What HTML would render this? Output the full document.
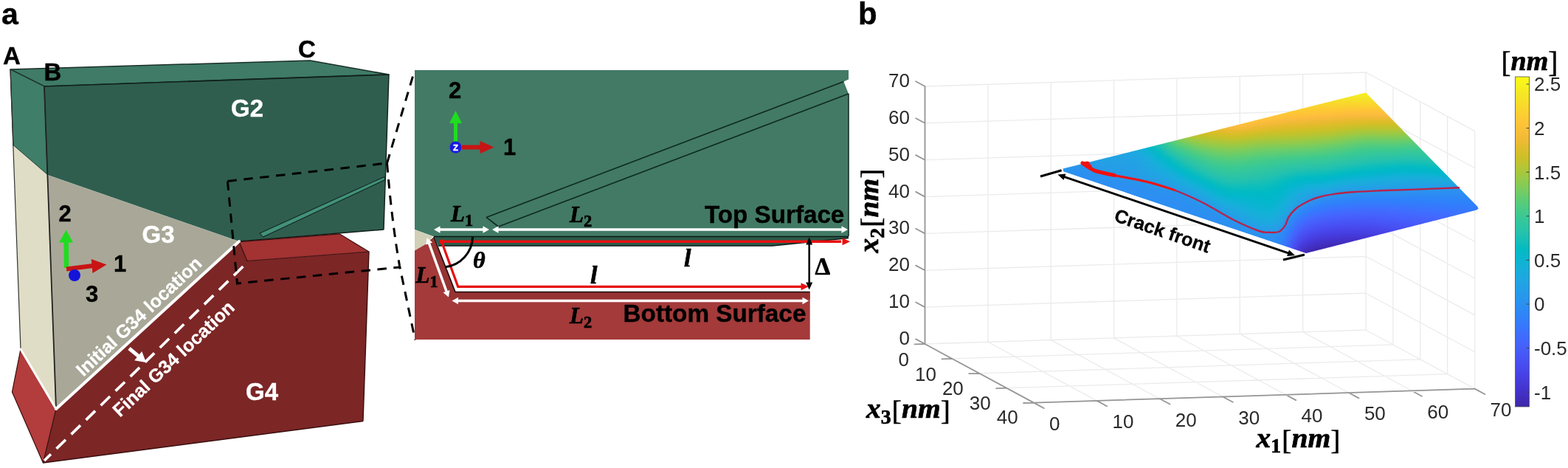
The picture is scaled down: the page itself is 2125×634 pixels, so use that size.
<!DOCTYPE html>
<html><head><meta charset="utf-8"><title>Figure</title>
<style>
html,body{margin:0;padding:0;background:#fff;}
body{width:2125px;height:634px;overflow:hidden;}
svg{display:block;}
.sb{font-family:"Liberation Sans",Arial,Helvetica,sans-serif;font-weight:bold;}
.sr{font-family:"Liberation Sans",Arial,Helvetica,sans-serif;font-weight:normal;}
.mi{font-family:"Liberation Serif","Times New Roman",serif;font-weight:bold;font-style:italic;stroke:#000;stroke-width:0.7px;}
.mr{font-family:"Liberation Serif","Times New Roman",serif;font-weight:normal;font-style:normal;stroke:#000;stroke-width:0.5px;}
.mb{font-family:"Liberation Serif","Times New Roman",serif;font-weight:bold;font-style:normal;stroke:#000;stroke-width:0.7px;}
</style></head><body>
<svg width="2125" height="634" viewBox="0 0 2125 634">
<rect x="0" y="0" width="2125" height="634" fill="#ffffff"/>
<g id="panelA">
<polygon points="14.0,94.0 420.4,82.0 527.0,101.0 60.0,117.0" fill="#3f7b67" stroke="#1a2f28" stroke-width="1.5" stroke-linejoin="round" />
<polygon points="14.0,94.0 60.0,117.0 64.4,237.0 18.0,197.0" fill="#3f7e69" stroke="#1a2f28" stroke-width="1.2" stroke-linejoin="round" />
<polygon points="18.0,197.0 64.4,237.0 76.0,554.0 28.0,473.0" fill="#dfddc6" />
<line x1="14.0" y1="94.0" x2="28.0" y2="473.0" stroke="#333" stroke-width="1.2" />
<polygon points="60.0,117.0 527.0,101.0 520.0,311.0 324.0,327.0 64.4,237.0" fill="#2f5e4f" />
<line x1="60.0" y1="117.0" x2="527.0" y2="101.0" stroke="#10201b" stroke-width="1.6" />
<line x1="527.0" y1="101.0" x2="520.0" y2="311.0" stroke="#10201b" stroke-width="1.4" />
<line x1="520.0" y1="311.0" x2="324.0" y2="327.0" stroke="#10201b" stroke-width="1.4" />
<polygon points="64.4,237.0 324.0,327.0 76.0,554.0" fill="#a9a898" />
<line x1="60.0" y1="117.0" x2="76.0" y2="554.0" stroke="#222" stroke-width="1.8" />
<polygon points="76.0,554.0 324.0,327.0 335.0,353.5 500.0,341.0 492.0,570.5 58.4,627.0" fill="#7c2626" />
<polygon points="324.0,327.6 460.0,316.8 500.0,341.0 335.0,353.5" fill="#a33232" stroke="#3a0f0f" stroke-width="1.2" stroke-linejoin="round" />
<line x1="500.0" y1="341.0" x2="492.0" y2="570.5" stroke="#3a0f0f" stroke-width="1.4" />
<line x1="492.0" y1="570.5" x2="58.4" y2="627.0" stroke="#3a0f0f" stroke-width="1.4" />
<polygon points="28.0,473.0 76.0,554.0 58.4,627.0 16.4,531.0" fill="#b33c3c" stroke="#3a0f0f" stroke-width="1.2" stroke-linejoin="round" />
<polygon points="352.0,316.0 521.0,239.5 521.8,243.6 356.5,321.0" fill="#43917a" stroke="#10281f" stroke-width="1.1" stroke-linejoin="round" />
<line x1="76.0" y1="554.0" x2="324.0" y2="327.0" stroke="#fff" stroke-width="4" stroke-linecap="round"/>
<line x1="28.0" y1="473.0" x2="76.0" y2="554.0" stroke="#fff" stroke-width="3" stroke-linecap="round"/>
<line x1="60.0" y1="624.0" x2="333.0" y2="357.5" stroke="#fff" stroke-width="3.7" stroke-dasharray="17.5 10.5" stroke-dashoffset="5"/>
<line x1="175.0" y1="472.0" x2="189.4" y2="483.9" stroke="#fff" stroke-width="5" />
<polygon points="198.0,491.0 182.1,488.3 192.3,475.9" fill="#fff" />
<path d="M308.4,245.5 L524.5,221 M308.4,245.5 L321.5,384 L541,362 M524.5,221 Q531,300 541.5,360 L562.6,460.5 M524.5,221 L562,95" fill="none" stroke="#000" stroke-width="3" stroke-dasharray="12.5 9.5"/>
<line x1="90.0" y1="363.0" x2="89.6" y2="326.0" stroke="#20dc20" stroke-width="6.5" />
<polygon points="89.6,311.5 99.1,328.5 80.1,328.5" fill="#20dc20" />
<line x1="90.0" y1="364.5" x2="126.0" y2="360.0" stroke="#c81414" stroke-width="6" />
<polygon points="144.5,358.5 125.5,369.9 123.7,351.0" fill="#c81414" />
<circle cx="101" cy="373" r="8" fill="#1414d8"/>
<text x="2.0" y="33.0" font-size="41" class="sb" fill="#000" text-anchor="start"  stroke="#000" stroke-width="0.4">a</text>
<text x="4.0" y="86.5" font-size="33" class="sb" fill="#000" text-anchor="start"  stroke="#000" stroke-width="0.4">A</text>
<text x="59.5" y="108.5" font-size="33" class="sb" fill="#000" text-anchor="start"  stroke="#000" stroke-width="0.4">B</text>
<text x="404.0" y="77.5" font-size="33" class="sb" fill="#000" text-anchor="start"  stroke="#000" stroke-width="0.4">C</text>
<text x="313.0" y="158.0" font-size="33" class="sb" fill="#fff" text-anchor="start"  stroke="#fff" stroke-width="0.4">G2</text>
<text x="192.5" y="328.5" font-size="33" class="sb" fill="#fff" text-anchor="start"  stroke="#fff" stroke-width="0.4">G3</text>
<text x="333.0" y="542.0" font-size="33" class="sb" fill="#fff" text-anchor="start"  stroke="#fff" stroke-width="0.4">G4</text>
<text x="79.5" y="300.0" font-size="31" class="sb" fill="#000" text-anchor="start"  stroke="#000" stroke-width="0.4">2</text>
<text x="154.0" y="368.0" font-size="31" class="sb" fill="#000" text-anchor="start"  stroke="#000" stroke-width="0.4">1</text>
<text x="116.0" y="409.0" font-size="31" class="sb" fill="#000" text-anchor="start"  stroke="#000" stroke-width="0.4">3</text>
<text transform="translate(113,511) rotate(-43.2)" font-size="25" class="sb" fill="#fff" stroke="#fff" stroke-width="0.3">Initial G34 location</text>
<text transform="translate(162.5,566) rotate(-43.2)" font-size="25" class="sb" fill="#fff" stroke="#fff" stroke-width="0.3">Final G34 location</text>
</g>
<g id="panelM">
<polygon points="562.0,95.0 1150.0,95.0 1150.0,107.5 1143.4,110.6 1150.0,127.0 1150.0,320.5 588.0,320.5 562.0,311.0" fill="#427a66" />
<path d="M659,294.4 L1143.4,110.6 M675.5,307 L1150,127 M659,294.4 L675.5,307" fill="none" stroke="#0f2a22" stroke-width="1.6"/>
<line x1="1150.0" y1="127.0" x2="1150.0" y2="320.0" stroke="#0f2a22" stroke-width="1.5" />
<polygon points="562.0,311.0 586.4,320.4 578.7,329.7 562.0,339.6" fill="#d2cfb8" />
<polygon points="562.0,339.6 578.7,329.7 588.0,321.0 617.0,396.0 1097.7,396.0 1097.7,460.0 562.0,460.0" fill="#a43a3a" />
<polygon points="588.0,321.0 617.0,396.0 1097.7,396.0 1097.7,405.5 610.5,405.5 582.0,326.0" fill="#953333" />
<path d="M588,321 L617,395.5 L1097.7,395.5" fill="none" stroke="#1a0a0a" stroke-width="1.6"/>
<polygon points="588.0,320.5 1150.0,320.5 1150.0,322.5 1047.0,333.0 594.0,333.0" fill="#2c5a4a" />
<path d="M588,320.5 L1150,320.5 M594,333 L1047,333 L1150,322.5" fill="none" stroke="#0a1a15" stroke-width="1.6"/>
<line x1="600.0" y1="327.3" x2="1140.0" y2="327.3" stroke="#e81010" stroke-width="3.6" />
<polygon points="1152.0,327.3 1141.5,332.3 1141.5,322.3" fill="#e81010" />
<circle cx="598.5" cy="327.3" r="3" fill="#e81010"/>
<path d="M598.5,327.3 L620.7,388.3 L1086,388.3" fill="none" stroke="#e81010" stroke-width="3.2" stroke-linejoin="miter"/>
<polygon points="1096.0,388.3 1085.5,393.3 1085.5,383.3" fill="#e81010" />
<path d="M640.6,321 A42,42 0 0 1 603,361.7" fill="none" stroke="#000" stroke-width="3"/>
<line x1="594.8" y1="311.0" x2="656.2" y2="311.0" stroke="#fff" stroke-width="3.4" />
<polygon points="588.0,311.0 596.5,306.2 596.5,315.8" fill="#fff" />
<polygon points="663.0,311.0 654.5,315.8 654.5,306.2" fill="#fff" />
<line x1="673.8" y1="311.0" x2="1142.2" y2="311.0" stroke="#fff" stroke-width="3.4" />
<polygon points="667.0,311.0 675.5,306.2 675.5,315.8" fill="#fff" />
<polygon points="1149.0,311.0 1140.5,315.8 1140.5,306.2" fill="#fff" />
<line x1="581.0" y1="328.4" x2="605.6" y2="396.2" stroke="#fff" stroke-width="3.4" />
<polygon points="578.7,322.0 586.1,328.4 577.1,331.6" fill="#fff" />
<polygon points="607.9,402.6 600.5,396.2 609.5,393.0" fill="#fff" />
<line x1="619.3" y1="407.5" x2="1089.2" y2="407.5" stroke="#fff" stroke-width="3.4" />
<polygon points="612.5,407.5 621.0,402.8 621.0,412.2" fill="#fff" />
<polygon points="1096.0,407.5 1087.5,412.2 1087.5,402.8" fill="#fff" />
<line x1="1096.7" y1="329.5" x2="1096.7" y2="384.5" stroke="#000" stroke-width="2.6" />
<polygon points="1096.7,321.5 1101.2,331.5 1092.2,331.5" fill="#000" />
<polygon points="1096.7,392.5 1092.2,382.5 1101.2,382.5" fill="#000" />
<line x1="617.5" y1="197.0" x2="617.5" y2="165.0" stroke="#20dc20" stroke-width="5" />
<polygon points="617.5,150.0 626.0,167.0 609.0,167.0" fill="#20dc20" />
<line x1="626.0" y1="199.5" x2="652.0" y2="199.5" stroke="#c81414" stroke-width="6" />
<polygon points="669.5,199.5 650.5,208.0 650.5,191.0" fill="#c81414" />
<circle cx="617.5" cy="199.5" r="8" fill="#1a1ae0"/>
<text x="617.6" y="203.6" font-size="11.5" class="sb" fill="#fff" text-anchor="middle"  stroke="#fff" stroke-width="0.4">Z</text>
<text x="608.0" y="133.0" font-size="31" class="sb" fill="#000" text-anchor="start"  stroke="#000" stroke-width="0.4">2</text>
<text x="682.0" y="209.5" font-size="31" class="sb" fill="#000" text-anchor="start"  stroke="#000" stroke-width="0.4">1</text>
<text x="955.0" y="302.0" font-size="33.2" class="sb" fill="#000" text-anchor="start"  stroke="#000" stroke-width="0.4">Top Surface</text>
<text x="844.5" y="436.0" font-size="33.3" class="sb" fill="#000" text-anchor="start"  stroke="#000" stroke-width="0.4">Bottom Surface</text>
<text x="611.0" y="300.0" font-size="31" class="mi" fill="#000">L<tspan dy="6.2" font-size="22.32" class="mb">1</tspan></text>
<text x="772.0" y="300.5" font-size="31" class="mi" fill="#000">L<tspan dy="6.2" font-size="22.32" class="mb">2</tspan></text>
<text x="563.5" y="382.5" font-size="31" class="mi" fill="#000">L<tspan dy="6.2" font-size="22.32" class="mb">1</tspan></text>
<text x="772.0" y="438.0" font-size="31" class="mi" fill="#000">L<tspan dy="6.2" font-size="22.32" class="mb">2</tspan></text>
<text x="641.0" y="363.0" font-size="32" class="mi" fill="#000" text-anchor="start" >θ</text>
<text x="927.0" y="361.0" font-size="34" class="mi" fill="#000" text-anchor="start" >l</text>
<text x="800.0" y="383.5" font-size="34" class="mi" fill="#000" text-anchor="start" >l</text>
<text x="1104.5" y="371.5" font-size="33" class="mb" fill="#000" text-anchor="start" >Δ</text>
</g>
<g id="panelB">
<path d="M1253.5,466.0 L1253.5,117.0 M1253.5,466.0 L1851.0,447.0 M1338.9,463.3 L1338.9,114.3 M1253.5,416.1 L1851.0,397.2 M1424.2,460.6 L1424.2,111.6 M1253.5,366.3 L1851.0,347.3 M1509.6,457.9 L1509.6,108.9 M1253.5,316.4 L1851.0,297.4 M1594.9,455.2 L1594.9,106.1 M1253.5,266.6 L1851.0,247.6 M1680.3,452.4 L1680.3,103.4 M1253.5,216.7 L1851.0,197.7 M1765.7,449.7 L1765.7,100.7 M1253.5,166.8 L1851.0,147.9 M1851.0,447.0 L1851.0,98.0 M1253.5,117.0 L1851.0,98.0 M1887.9,466.9 L1887.9,117.9 M1924.8,486.8 L1924.8,137.8 M1961.7,506.7 L1961.7,157.7 M1998.6,526.6 L1998.6,177.6 M1851.0,447.0 L1998.6,526.6 M1851.0,397.2 L1998.6,476.8 M1851.0,347.3 L1998.6,426.9 M1851.0,297.4 L1998.6,377.0 M1851.0,247.6 L1998.6,327.2 M1851.0,197.7 L1998.6,277.3 M1851.0,147.9 L1998.6,227.5 M1851.0,98.0 L1998.6,177.6 M1290.4,485.9 L1887.9,466.9 M1327.3,505.8 L1924.8,486.8 M1364.2,525.7 L1961.7,506.7 M1401.1,545.6 L1998.6,526.6 M1338.9,463.3 L1486.5,542.9 M1424.2,460.6 L1571.8,540.2 M1509.6,457.9 L1657.2,537.5 M1594.9,455.2 L1742.5,534.8 M1680.3,452.4 L1827.9,532.0 M1765.7,449.7 L1913.3,529.3 M1851.0,447.0 L1998.6,526.6" fill="none" stroke="#ebebeb" stroke-width="1.3"/>
<path d="M1253.5,466.0 L1253.5,117.0 M1253.5,466.0 L1401.1,545.6 M1401.1,545.6 L1998.6,526.6 M1253.5,466.0 L1241.2,459.4 M1401.1,545.6 L1414.7,553.0 M1253.5,416.1 L1241.2,409.5 M1486.5,542.9 L1500.1,550.2 M1253.5,366.3 L1241.2,359.6 M1571.8,540.2 L1585.5,547.5 M1253.5,316.4 L1241.2,309.8 M1657.2,537.5 L1670.8,544.8 M1253.5,266.6 L1241.2,259.9 M1742.5,534.8 L1756.2,542.1 M1253.5,216.7 L1241.2,210.1 M1827.9,532.0 L1841.5,539.4 M1253.5,166.8 L1241.2,160.2 M1913.3,529.3 L1926.9,536.7 M1253.5,117.0 L1241.2,110.3 M1998.6,526.6 L2012.3,534.0 M1253.5,466.0 L1239.5,466.4 M1290.4,485.9 L1276.4,486.3 M1327.3,505.8 L1313.3,506.2 M1364.2,525.7 L1350.2,526.1 M1401.1,545.6 L1387.1,546.0 M1401.1,545.6 L1411.7,551.3" fill="none" stroke="#969696" stroke-width="1.8" stroke-linecap="round"/>
<text x="1233.0" y="467.0" font-size="26" class="sr" fill="#2a2a2a" text-anchor="end" >0</text>
<text x="1422.1" y="582.9" font-size="26" class="sr" fill="#2a2a2a" text-anchor="start" >0</text>
<text x="1233.0" y="417.1" font-size="26" class="sr" fill="#2a2a2a" text-anchor="end" >10</text>
<text x="1507.5" y="580.2" font-size="26" class="sr" fill="#2a2a2a" text-anchor="start" >10</text>
<text x="1233.0" y="367.3" font-size="26" class="sr" fill="#2a2a2a" text-anchor="end" >20</text>
<text x="1592.8" y="577.5" font-size="26" class="sr" fill="#2a2a2a" text-anchor="start" >20</text>
<text x="1233.0" y="317.4" font-size="26" class="sr" fill="#2a2a2a" text-anchor="end" >30</text>
<text x="1678.2" y="574.8" font-size="26" class="sr" fill="#2a2a2a" text-anchor="start" >30</text>
<text x="1233.0" y="267.6" font-size="26" class="sr" fill="#2a2a2a" text-anchor="end" >40</text>
<text x="1763.5" y="572.1" font-size="26" class="sr" fill="#2a2a2a" text-anchor="start" >40</text>
<text x="1233.0" y="217.7" font-size="26" class="sr" fill="#2a2a2a" text-anchor="end" >50</text>
<text x="1848.9" y="569.3" font-size="26" class="sr" fill="#2a2a2a" text-anchor="start" >50</text>
<text x="1233.0" y="167.8" font-size="26" class="sr" fill="#2a2a2a" text-anchor="end" >60</text>
<text x="1934.3" y="566.6" font-size="26" class="sr" fill="#2a2a2a" text-anchor="start" >60</text>
<text x="1233.0" y="118.0" font-size="26" class="sr" fill="#2a2a2a" text-anchor="end" >70</text>
<text x="2019.6" y="563.9" font-size="26" class="sr" fill="#2a2a2a" text-anchor="start" >70</text>
<text x="1232.0" y="496.3" font-size="26" class="sr" fill="#2a2a2a" text-anchor="end" >0</text>
<text x="1268.9" y="515.7" font-size="26" class="sr" fill="#2a2a2a" text-anchor="end" >10</text>
<text x="1305.8" y="535.1" font-size="26" class="sr" fill="#2a2a2a" text-anchor="end" >20</text>
<text x="1342.7" y="554.5" font-size="26" class="sr" fill="#2a2a2a" text-anchor="end" >30</text>
<text x="1379.6" y="573.9" font-size="26" class="sr" fill="#2a2a2a" text-anchor="end" >40</text>
<defs><clipPath id="sc"><polygon points="1440.6,228.6 1851.0,125.5 2002.0,279.5 2003.5,282.5 2001.0,284.5 1770.0,343.0 1441.2,232.6"/></clipPath>
<linearGradient id="g0" gradientUnits="userSpaceOnUse" x1="1829.0" y1="0" x2="1873.0" y2="0"><stop offset="0.000" stop-color="#f7f31d"/><stop offset="0.250" stop-color="#f7f31d"/><stop offset="0.500" stop-color="#f7f31d"/><stop offset="0.750" stop-color="#f7f31d"/><stop offset="1.000" stop-color="#f7f31d"/></linearGradient>
<linearGradient id="g1" gradientUnits="userSpaceOnUse" x1="1817.3" y1="0" x2="1875.9" y2="0"><stop offset="0.000" stop-color="#f5ee21"/><stop offset="0.200" stop-color="#f5ee21"/><stop offset="0.400" stop-color="#f5ee21"/><stop offset="0.600" stop-color="#f5ee21"/><stop offset="0.800" stop-color="#f5ee21"/><stop offset="1.000" stop-color="#f5ee21"/></linearGradient>
<linearGradient id="g2" gradientUnits="userSpaceOnUse" x1="1805.5" y1="0" x2="1878.8" y2="0"><stop offset="0.000" stop-color="#f5e924"/><stop offset="0.143" stop-color="#f5e924"/><stop offset="0.286" stop-color="#f5e825"/><stop offset="0.429" stop-color="#f5e825"/><stop offset="0.571" stop-color="#f5e825"/><stop offset="0.714" stop-color="#f5e825"/><stop offset="0.857" stop-color="#f5e825"/><stop offset="1.000" stop-color="#f5e825"/></linearGradient>
<linearGradient id="g3" gradientUnits="userSpaceOnUse" x1="1793.8" y1="0" x2="1881.7" y2="0"><stop offset="0.000" stop-color="#f5e526"/><stop offset="0.125" stop-color="#f5e427"/><stop offset="0.250" stop-color="#f5e327"/><stop offset="0.375" stop-color="#f5e327"/><stop offset="0.500" stop-color="#f5e227"/><stop offset="0.625" stop-color="#f5e227"/><stop offset="0.750" stop-color="#f5e227"/><stop offset="0.875" stop-color="#f5e327"/><stop offset="1.000" stop-color="#f5e327"/></linearGradient>
<linearGradient id="g4" gradientUnits="userSpaceOnUse" x1="1782.1" y1="0" x2="1884.7" y2="0"><stop offset="0.000" stop-color="#f6e028"/><stop offset="0.111" stop-color="#f6df29"/><stop offset="0.222" stop-color="#f6de29"/><stop offset="0.333" stop-color="#f6dd29"/><stop offset="0.444" stop-color="#f7dd2a"/><stop offset="0.556" stop-color="#f7dd2a"/><stop offset="0.667" stop-color="#f7dd2a"/><stop offset="0.778" stop-color="#f7dd2a"/><stop offset="0.889" stop-color="#f7dd2a"/><stop offset="1.000" stop-color="#f7dd2a"/></linearGradient>
<linearGradient id="g5" gradientUnits="userSpaceOnUse" x1="1770.4" y1="0" x2="1887.6" y2="0"><stop offset="0.000" stop-color="#f7dc2a"/><stop offset="0.100" stop-color="#f8da2b"/><stop offset="0.200" stop-color="#f8d92b"/><stop offset="0.300" stop-color="#f8d82c"/><stop offset="0.400" stop-color="#f9d82c"/><stop offset="0.500" stop-color="#f9d72c"/><stop offset="0.600" stop-color="#f9d72d"/><stop offset="0.700" stop-color="#f9d72d"/><stop offset="0.800" stop-color="#f9d72d"/><stop offset="0.900" stop-color="#f9d72d"/><stop offset="1.000" stop-color="#f9d72d"/></linearGradient>
<linearGradient id="g6" gradientUnits="userSpaceOnUse" x1="1758.6" y1="0" x2="1890.5" y2="0"><stop offset="0.000" stop-color="#f9d82c"/><stop offset="0.091" stop-color="#f9d62d"/><stop offset="0.182" stop-color="#fad52e"/><stop offset="0.273" stop-color="#fad42e"/><stop offset="0.364" stop-color="#fbd32f"/><stop offset="0.455" stop-color="#fbd22f"/><stop offset="0.545" stop-color="#fbd12f"/><stop offset="0.636" stop-color="#fcd12f"/><stop offset="0.727" stop-color="#fcd12f"/><stop offset="0.818" stop-color="#fcd12f"/><stop offset="0.909" stop-color="#fcd12f"/><stop offset="1.000" stop-color="#fcd12f"/></linearGradient>
<linearGradient id="g7" gradientUnits="userSpaceOnUse" x1="1746.9" y1="0" x2="1893.4" y2="0"><stop offset="0.000" stop-color="#fad42e"/><stop offset="0.077" stop-color="#fbd22f"/><stop offset="0.154" stop-color="#fcd12f"/><stop offset="0.231" stop-color="#fcd030"/><stop offset="0.308" stop-color="#fdce31"/><stop offset="0.385" stop-color="#fdcd31"/><stop offset="0.462" stop-color="#fdcd32"/><stop offset="0.538" stop-color="#fdcc32"/><stop offset="0.615" stop-color="#fdcb33"/><stop offset="0.692" stop-color="#fdcb33"/><stop offset="0.769" stop-color="#fdcb33"/><stop offset="0.846" stop-color="#fdcb33"/><stop offset="0.923" stop-color="#fdcb33"/><stop offset="1.000" stop-color="#fdcb33"/></linearGradient>
<linearGradient id="g8" gradientUnits="userSpaceOnUse" x1="1735.2" y1="0" x2="1896.3" y2="0"><stop offset="0.000" stop-color="#fbd22f"/><stop offset="0.071" stop-color="#fccf31"/><stop offset="0.143" stop-color="#fdcd32"/><stop offset="0.214" stop-color="#fdcb33"/><stop offset="0.286" stop-color="#feca33"/><stop offset="0.357" stop-color="#fec934"/><stop offset="0.429" stop-color="#fec835"/><stop offset="0.500" stop-color="#fec735"/><stop offset="0.571" stop-color="#fec636"/><stop offset="0.643" stop-color="#fec636"/><stop offset="0.714" stop-color="#fec537"/><stop offset="0.786" stop-color="#fec537"/><stop offset="0.857" stop-color="#fec537"/><stop offset="0.929" stop-color="#fec537"/><stop offset="1.000" stop-color="#fec537"/></linearGradient>
<linearGradient id="g9" gradientUnits="userSpaceOnUse" x1="1723.5" y1="0" x2="1899.2" y2="0"><stop offset="0.000" stop-color="#fcd030"/><stop offset="0.067" stop-color="#fdcc32"/><stop offset="0.133" stop-color="#fec934"/><stop offset="0.200" stop-color="#fec735"/><stop offset="0.267" stop-color="#fec636"/><stop offset="0.333" stop-color="#fec537"/><stop offset="0.400" stop-color="#fec438"/><stop offset="0.467" stop-color="#fec339"/><stop offset="0.533" stop-color="#fec239"/><stop offset="0.600" stop-color="#fec13a"/><stop offset="0.667" stop-color="#fec03a"/><stop offset="0.733" stop-color="#fec03b"/><stop offset="0.800" stop-color="#fec03b"/><stop offset="0.867" stop-color="#fec03b"/><stop offset="0.933" stop-color="#fec03b"/><stop offset="1.000" stop-color="#febf3b"/></linearGradient>
<linearGradient id="g10" gradientUnits="userSpaceOnUse" x1="1711.7" y1="0" x2="1902.1" y2="0"><stop offset="0.000" stop-color="#fdce31"/><stop offset="0.062" stop-color="#feca33"/><stop offset="0.125" stop-color="#fec736"/><stop offset="0.188" stop-color="#fec438"/><stop offset="0.250" stop-color="#fec239"/><stop offset="0.312" stop-color="#fec13a"/><stop offset="0.375" stop-color="#fec03b"/><stop offset="0.438" stop-color="#febf3b"/><stop offset="0.500" stop-color="#febe3c"/><stop offset="0.562" stop-color="#fdbd3d"/><stop offset="0.625" stop-color="#fcbc3d"/><stop offset="0.688" stop-color="#fbbc3d"/><stop offset="0.750" stop-color="#fbbc3d"/><stop offset="0.812" stop-color="#fbbc3d"/><stop offset="0.875" stop-color="#fbbc3d"/><stop offset="0.938" stop-color="#fbbc3d"/><stop offset="1.000" stop-color="#fabb3d"/></linearGradient>
<linearGradient id="g11" gradientUnits="userSpaceOnUse" x1="1700.0" y1="0" x2="1905.1" y2="0"><stop offset="0.000" stop-color="#fdcd32"/><stop offset="0.056" stop-color="#fec934"/><stop offset="0.111" stop-color="#fec537"/><stop offset="0.167" stop-color="#fec239"/><stop offset="0.222" stop-color="#febf3b"/><stop offset="0.278" stop-color="#febe3c"/><stop offset="0.333" stop-color="#fdbd3d"/><stop offset="0.389" stop-color="#fcbc3d"/><stop offset="0.444" stop-color="#fbbc3d"/><stop offset="0.500" stop-color="#f9bb3d"/><stop offset="0.556" stop-color="#f8ba3d"/><stop offset="0.611" stop-color="#f6ba3b"/><stop offset="0.667" stop-color="#f5ba3a"/><stop offset="0.722" stop-color="#f4ba39"/><stop offset="0.778" stop-color="#f3ba39"/><stop offset="0.833" stop-color="#f3ba39"/><stop offset="0.889" stop-color="#f4ba39"/><stop offset="0.944" stop-color="#f3ba39"/><stop offset="1.000" stop-color="#f2ba38"/></linearGradient>
<linearGradient id="g12" gradientUnits="userSpaceOnUse" x1="1688.3" y1="0" x2="1908.0" y2="0"><stop offset="0.000" stop-color="#fdcb32"/><stop offset="0.053" stop-color="#fec735"/><stop offset="0.105" stop-color="#fec338"/><stop offset="0.158" stop-color="#fec03b"/><stop offset="0.211" stop-color="#fdbd3d"/><stop offset="0.263" stop-color="#fbbc3d"/><stop offset="0.316" stop-color="#f9bb3d"/><stop offset="0.368" stop-color="#f8ba3d"/><stop offset="0.421" stop-color="#f6ba3c"/><stop offset="0.474" stop-color="#f5ba3a"/><stop offset="0.526" stop-color="#f3ba38"/><stop offset="0.579" stop-color="#f0ba36"/><stop offset="0.632" stop-color="#eeba34"/><stop offset="0.684" stop-color="#ecba33"/><stop offset="0.737" stop-color="#ebba32"/><stop offset="0.789" stop-color="#ebba31"/><stop offset="0.842" stop-color="#ebba31"/><stop offset="0.895" stop-color="#ebba31"/><stop offset="0.947" stop-color="#ebba31"/><stop offset="1.000" stop-color="#e9bb30"/></linearGradient>
<linearGradient id="g13" gradientUnits="userSpaceOnUse" x1="1676.6" y1="0" x2="1910.9" y2="0"><stop offset="0.000" stop-color="#fec835"/><stop offset="0.050" stop-color="#fec636"/><stop offset="0.100" stop-color="#fec239"/><stop offset="0.150" stop-color="#febe3c"/><stop offset="0.200" stop-color="#fbbc3d"/><stop offset="0.250" stop-color="#f8ba3d"/><stop offset="0.300" stop-color="#f5ba3a"/><stop offset="0.350" stop-color="#f2ba38"/><stop offset="0.400" stop-color="#f1ba37"/><stop offset="0.450" stop-color="#efba35"/><stop offset="0.500" stop-color="#edba33"/><stop offset="0.550" stop-color="#ebba31"/><stop offset="0.600" stop-color="#e8bb2f"/><stop offset="0.650" stop-color="#e5bb2d"/><stop offset="0.700" stop-color="#e3bc2c"/><stop offset="0.750" stop-color="#e2bc2b"/><stop offset="0.800" stop-color="#e1bc2b"/><stop offset="0.850" stop-color="#e1bc2b"/><stop offset="0.900" stop-color="#e1bc2b"/><stop offset="0.950" stop-color="#e1bc2b"/><stop offset="1.000" stop-color="#dfbc2a"/></linearGradient>
<linearGradient id="g14" gradientUnits="userSpaceOnUse" x1="1664.8" y1="0" x2="1913.8" y2="0"><stop offset="0.000" stop-color="#fec13a"/><stop offset="0.048" stop-color="#fec239"/><stop offset="0.095" stop-color="#fec03b"/><stop offset="0.143" stop-color="#fcbd3d"/><stop offset="0.190" stop-color="#f8ba3d"/><stop offset="0.238" stop-color="#f4ba39"/><stop offset="0.286" stop-color="#f0ba36"/><stop offset="0.333" stop-color="#edba34"/><stop offset="0.381" stop-color="#ebba32"/><stop offset="0.429" stop-color="#e9bb30"/><stop offset="0.476" stop-color="#e7bb2e"/><stop offset="0.524" stop-color="#e5bb2d"/><stop offset="0.571" stop-color="#e2bc2b"/><stop offset="0.619" stop-color="#debc2a"/><stop offset="0.667" stop-color="#dbbd29"/><stop offset="0.714" stop-color="#d8be28"/><stop offset="0.762" stop-color="#d7be28"/><stop offset="0.810" stop-color="#d6be28"/><stop offset="0.857" stop-color="#d7be28"/><stop offset="0.905" stop-color="#d7be28"/><stop offset="0.952" stop-color="#d6be28"/><stop offset="1.000" stop-color="#d4bf28"/></linearGradient>
<linearGradient id="g15" gradientUnits="userSpaceOnUse" x1="1653.1" y1="0" x2="1916.7" y2="0"><stop offset="0.000" stop-color="#fabb3d"/><stop offset="0.045" stop-color="#fcbc3d"/><stop offset="0.091" stop-color="#fdbd3d"/><stop offset="0.136" stop-color="#fabc3d"/><stop offset="0.182" stop-color="#f5ba3b"/><stop offset="0.227" stop-color="#f0ba36"/><stop offset="0.273" stop-color="#ebba32"/><stop offset="0.318" stop-color="#e8bb2f"/><stop offset="0.364" stop-color="#e6bb2d"/><stop offset="0.409" stop-color="#e3bc2c"/><stop offset="0.455" stop-color="#e1bc2b"/><stop offset="0.500" stop-color="#dfbc2a"/><stop offset="0.545" stop-color="#dcbd29"/><stop offset="0.591" stop-color="#d8be28"/><stop offset="0.636" stop-color="#d4bf28"/><stop offset="0.682" stop-color="#d0c028"/><stop offset="0.727" stop-color="#cdc028"/><stop offset="0.773" stop-color="#cbc029"/><stop offset="0.818" stop-color="#cbc129"/><stop offset="0.864" stop-color="#cbc029"/><stop offset="0.909" stop-color="#ccc028"/><stop offset="0.955" stop-color="#cac129"/><stop offset="1.000" stop-color="#c8c129"/></linearGradient>
<linearGradient id="g16" gradientUnits="userSpaceOnUse" x1="1641.4" y1="0" x2="1919.6" y2="0"><stop offset="0.000" stop-color="#eeba34"/><stop offset="0.042" stop-color="#f2ba38"/><stop offset="0.083" stop-color="#f5ba3b"/><stop offset="0.125" stop-color="#f7ba3c"/><stop offset="0.167" stop-color="#f3ba39"/><stop offset="0.208" stop-color="#edba34"/><stop offset="0.250" stop-color="#e8bb2f"/><stop offset="0.292" stop-color="#e3bb2c"/><stop offset="0.333" stop-color="#e0bc2b"/><stop offset="0.375" stop-color="#debc2a"/><stop offset="0.417" stop-color="#dcbd29"/><stop offset="0.458" stop-color="#d9be28"/><stop offset="0.500" stop-color="#d7be28"/><stop offset="0.542" stop-color="#d4bf28"/><stop offset="0.583" stop-color="#d1bf27"/><stop offset="0.625" stop-color="#ccc028"/><stop offset="0.667" stop-color="#c7c12a"/><stop offset="0.708" stop-color="#c2c22c"/><stop offset="0.750" stop-color="#c0c32d"/><stop offset="0.792" stop-color="#bec32e"/><stop offset="0.833" stop-color="#bfc32e"/><stop offset="0.875" stop-color="#bfc32d"/><stop offset="0.917" stop-color="#bfc32d"/><stop offset="0.958" stop-color="#bdc32e"/><stop offset="1.000" stop-color="#bbc430"/></linearGradient>
<linearGradient id="g17" gradientUnits="userSpaceOnUse" x1="1629.7" y1="0" x2="1922.5" y2="0"><stop offset="0.000" stop-color="#e0bc2a"/><stop offset="0.040" stop-color="#e5bb2d"/><stop offset="0.080" stop-color="#e9bb30"/><stop offset="0.120" stop-color="#ecba33"/><stop offset="0.160" stop-color="#edba34"/><stop offset="0.200" stop-color="#eabb30"/><stop offset="0.240" stop-color="#e3bb2c"/><stop offset="0.280" stop-color="#debd29"/><stop offset="0.320" stop-color="#dabd28"/><stop offset="0.360" stop-color="#d7be28"/><stop offset="0.400" stop-color="#d5be28"/><stop offset="0.440" stop-color="#d2bf27"/><stop offset="0.480" stop-color="#cfc028"/><stop offset="0.520" stop-color="#cdc028"/><stop offset="0.560" stop-color="#cac129"/><stop offset="0.600" stop-color="#c6c22a"/><stop offset="0.640" stop-color="#c0c32d"/><stop offset="0.680" stop-color="#bac430"/><stop offset="0.720" stop-color="#b5c533"/><stop offset="0.760" stop-color="#b2c635"/><stop offset="0.800" stop-color="#b1c635"/><stop offset="0.840" stop-color="#b1c635"/><stop offset="0.880" stop-color="#b2c535"/><stop offset="0.920" stop-color="#b2c635"/><stop offset="0.960" stop-color="#afc637"/><stop offset="1.000" stop-color="#adc638"/></linearGradient>
<linearGradient id="g18" gradientUnits="userSpaceOnUse" x1="1617.9" y1="0" x2="1925.4" y2="0"><stop offset="0.000" stop-color="#cdc028"/><stop offset="0.038" stop-color="#d6be28"/><stop offset="0.077" stop-color="#dbbd29"/><stop offset="0.115" stop-color="#dfbc2a"/><stop offset="0.154" stop-color="#e3bc2c"/><stop offset="0.192" stop-color="#e3bb2c"/><stop offset="0.231" stop-color="#dfbc2a"/><stop offset="0.269" stop-color="#d8be28"/><stop offset="0.308" stop-color="#d3bf27"/><stop offset="0.346" stop-color="#cfc028"/><stop offset="0.385" stop-color="#cdc028"/><stop offset="0.423" stop-color="#cbc029"/><stop offset="0.462" stop-color="#c8c129"/><stop offset="0.500" stop-color="#c5c22a"/><stop offset="0.538" stop-color="#c2c22c"/><stop offset="0.577" stop-color="#bfc32d"/><stop offset="0.615" stop-color="#bac430"/><stop offset="0.654" stop-color="#b3c534"/><stop offset="0.692" stop-color="#acc738"/><stop offset="0.731" stop-color="#a6c73c"/><stop offset="0.769" stop-color="#a3c83e"/><stop offset="0.808" stop-color="#a3c83f"/><stop offset="0.846" stop-color="#a4c83e"/><stop offset="0.885" stop-color="#a4c83e"/><stop offset="0.923" stop-color="#a3c83f"/><stop offset="0.962" stop-color="#a0c841"/><stop offset="1.000" stop-color="#a0c941"/></linearGradient>
<linearGradient id="g19" gradientUnits="userSpaceOnUse" x1="1606.2" y1="0" x2="1928.4" y2="0"><stop offset="0.000" stop-color="#b0c636"/><stop offset="0.037" stop-color="#c1c32c"/><stop offset="0.074" stop-color="#cbc129"/><stop offset="0.111" stop-color="#d0bf27"/><stop offset="0.148" stop-color="#d4bf28"/><stop offset="0.185" stop-color="#d8be28"/><stop offset="0.222" stop-color="#d8be28"/><stop offset="0.259" stop-color="#d3bf27"/><stop offset="0.296" stop-color="#ccc028"/><stop offset="0.333" stop-color="#c7c12a"/><stop offset="0.370" stop-color="#c4c22b"/><stop offset="0.407" stop-color="#c2c22c"/><stop offset="0.444" stop-color="#c1c32c"/><stop offset="0.481" stop-color="#bdc32e"/><stop offset="0.519" stop-color="#bac430"/><stop offset="0.556" stop-color="#b6c532"/><stop offset="0.593" stop-color="#b3c534"/><stop offset="0.630" stop-color="#adc638"/><stop offset="0.667" stop-color="#a5c83d"/><stop offset="0.704" stop-color="#9dc943"/><stop offset="0.741" stop-color="#97ca47"/><stop offset="0.778" stop-color="#94ca4a"/><stop offset="0.815" stop-color="#95ca49"/><stop offset="0.852" stop-color="#96ca49"/><stop offset="0.889" stop-color="#96ca49"/><stop offset="0.926" stop-color="#93ca4a"/><stop offset="0.963" stop-color="#91ca4c"/><stop offset="1.000" stop-color="#92ca4b"/></linearGradient>
<linearGradient id="g20" gradientUnits="userSpaceOnUse" x1="1594.5" y1="0" x2="1931.3" y2="0"><stop offset="0.000" stop-color="#89cb53"/><stop offset="0.034" stop-color="#a2c840"/><stop offset="0.069" stop-color="#b4c534"/><stop offset="0.103" stop-color="#bec32e"/><stop offset="0.138" stop-color="#c4c22b"/><stop offset="0.172" stop-color="#c8c129"/><stop offset="0.207" stop-color="#ccc028"/><stop offset="0.241" stop-color="#cdc028"/><stop offset="0.276" stop-color="#c9c129"/><stop offset="0.310" stop-color="#c1c32c"/><stop offset="0.345" stop-color="#bcc42f"/><stop offset="0.379" stop-color="#b9c431"/><stop offset="0.414" stop-color="#b7c532"/><stop offset="0.448" stop-color="#b6c532"/><stop offset="0.483" stop-color="#b4c534"/><stop offset="0.517" stop-color="#b0c636"/><stop offset="0.552" stop-color="#acc738"/><stop offset="0.586" stop-color="#a9c73b"/><stop offset="0.621" stop-color="#a3c83e"/><stop offset="0.655" stop-color="#9cc944"/><stop offset="0.690" stop-color="#94ca4a"/><stop offset="0.724" stop-color="#8ccb50"/><stop offset="0.759" stop-color="#87cb54"/><stop offset="0.793" stop-color="#86cb55"/><stop offset="0.828" stop-color="#87cb54"/><stop offset="0.862" stop-color="#87cb54"/><stop offset="0.897" stop-color="#86cb54"/><stop offset="0.931" stop-color="#83cc57"/><stop offset="0.966" stop-color="#82cc58"/><stop offset="1.000" stop-color="#85cb56"/></linearGradient>
<linearGradient id="g21" gradientUnits="userSpaceOnUse" x1="1582.8" y1="0" x2="1934.2" y2="0"><stop offset="0.000" stop-color="#55cc7b"/><stop offset="0.033" stop-color="#7bcc5d"/><stop offset="0.067" stop-color="#93ca4b"/><stop offset="0.100" stop-color="#a6c83d"/><stop offset="0.133" stop-color="#b2c635"/><stop offset="0.167" stop-color="#b8c431"/><stop offset="0.200" stop-color="#bcc42f"/><stop offset="0.233" stop-color="#c0c32d"/><stop offset="0.267" stop-color="#c0c32d"/><stop offset="0.300" stop-color="#bbc42f"/><stop offset="0.333" stop-color="#b4c534"/><stop offset="0.367" stop-color="#afc637"/><stop offset="0.400" stop-color="#acc738"/><stop offset="0.433" stop-color="#abc739"/><stop offset="0.467" stop-color="#aac73a"/><stop offset="0.500" stop-color="#a7c73c"/><stop offset="0.533" stop-color="#a3c83e"/><stop offset="0.567" stop-color="#9fc941"/><stop offset="0.600" stop-color="#9bc944"/><stop offset="0.633" stop-color="#95ca49"/><stop offset="0.667" stop-color="#8ecb4f"/><stop offset="0.700" stop-color="#85cb55"/><stop offset="0.733" stop-color="#7dcc5b"/><stop offset="0.767" stop-color="#77cc5f"/><stop offset="0.800" stop-color="#77cc60"/><stop offset="0.833" stop-color="#78cc5f"/><stop offset="0.867" stop-color="#79cc5f"/><stop offset="0.900" stop-color="#77cc60"/><stop offset="0.933" stop-color="#73cd62"/><stop offset="0.967" stop-color="#74cd62"/><stop offset="1.000" stop-color="#78cc5f"/></linearGradient>
<linearGradient id="g22" gradientUnits="userSpaceOnUse" x1="1571.0" y1="0" x2="1937.1" y2="0"><stop offset="0.000" stop-color="#2fc5a2"/><stop offset="0.032" stop-color="#49cb85"/><stop offset="0.065" stop-color="#6ccd68"/><stop offset="0.097" stop-color="#84cc56"/><stop offset="0.129" stop-color="#97ca48"/><stop offset="0.161" stop-color="#a4c83e"/><stop offset="0.194" stop-color="#abc739"/><stop offset="0.226" stop-color="#b0c636"/><stop offset="0.258" stop-color="#b4c534"/><stop offset="0.290" stop-color="#b4c534"/><stop offset="0.323" stop-color="#aec637"/><stop offset="0.355" stop-color="#a7c73c"/><stop offset="0.387" stop-color="#a2c83f"/><stop offset="0.419" stop-color="#a0c841"/><stop offset="0.452" stop-color="#9ec942"/><stop offset="0.484" stop-color="#9dc943"/><stop offset="0.516" stop-color="#9ac945"/><stop offset="0.548" stop-color="#96ca48"/><stop offset="0.581" stop-color="#92ca4b"/><stop offset="0.613" stop-color="#8dcb4f"/><stop offset="0.645" stop-color="#87cb54"/><stop offset="0.677" stop-color="#7fcc5a"/><stop offset="0.710" stop-color="#76cc60"/><stop offset="0.742" stop-color="#6ecd67"/><stop offset="0.774" stop-color="#69cd6b"/><stop offset="0.806" stop-color="#69cd6a"/><stop offset="0.839" stop-color="#6acd6a"/><stop offset="0.871" stop-color="#6acd6a"/><stop offset="0.903" stop-color="#68cd6c"/><stop offset="0.935" stop-color="#65cd6e"/><stop offset="0.968" stop-color="#67cd6c"/><stop offset="1.000" stop-color="#6ccd68"/></linearGradient>
<linearGradient id="g23" gradientUnits="userSpaceOnUse" x1="1559.3" y1="0" x2="1940.0" y2="0"><stop offset="0.000" stop-color="#0abdbd"/><stop offset="0.031" stop-color="#29c3a9"/><stop offset="0.062" stop-color="#3fca8e"/><stop offset="0.094" stop-color="#5fcd73"/><stop offset="0.125" stop-color="#74cc62"/><stop offset="0.156" stop-color="#88cb53"/><stop offset="0.188" stop-color="#97ca48"/><stop offset="0.219" stop-color="#9ec942"/><stop offset="0.250" stop-color="#a3c83e"/><stop offset="0.281" stop-color="#a7c73c"/><stop offset="0.312" stop-color="#a6c73c"/><stop offset="0.344" stop-color="#a0c840"/><stop offset="0.375" stop-color="#99c946"/><stop offset="0.406" stop-color="#95ca49"/><stop offset="0.438" stop-color="#93ca4b"/><stop offset="0.469" stop-color="#92ca4c"/><stop offset="0.500" stop-color="#90ca4d"/><stop offset="0.531" stop-color="#8dcb4f"/><stop offset="0.562" stop-color="#89cb52"/><stop offset="0.594" stop-color="#85cb56"/><stop offset="0.625" stop-color="#7fcc5a"/><stop offset="0.656" stop-color="#78cc5f"/><stop offset="0.688" stop-color="#70cd65"/><stop offset="0.719" stop-color="#68cd6c"/><stop offset="0.750" stop-color="#60cd72"/><stop offset="0.781" stop-color="#5dcc75"/><stop offset="0.812" stop-color="#5dcc75"/><stop offset="0.844" stop-color="#5ecc74"/><stop offset="0.875" stop-color="#5dcc75"/><stop offset="0.906" stop-color="#5acc77"/><stop offset="0.938" stop-color="#59cc78"/><stop offset="0.969" stop-color="#5ccc76"/><stop offset="1.000" stop-color="#61cd71"/></linearGradient>
<linearGradient id="g24" gradientUnits="userSpaceOnUse" x1="1547.6" y1="0" x2="1942.9" y2="0"><stop offset="0.000" stop-color="#09b4d1"/><stop offset="0.030" stop-color="#03bbc3"/><stop offset="0.061" stop-color="#22c1b0"/><stop offset="0.091" stop-color="#37c897"/><stop offset="0.121" stop-color="#52cc7e"/><stop offset="0.152" stop-color="#65cd6e"/><stop offset="0.182" stop-color="#7acc5e"/><stop offset="0.212" stop-color="#89cb52"/><stop offset="0.242" stop-color="#92ca4c"/><stop offset="0.273" stop-color="#97ca47"/><stop offset="0.303" stop-color="#9bc945"/><stop offset="0.333" stop-color="#99c946"/><stop offset="0.364" stop-color="#93ca4b"/><stop offset="0.394" stop-color="#8ccb50"/><stop offset="0.424" stop-color="#88cb53"/><stop offset="0.455" stop-color="#86cb55"/><stop offset="0.485" stop-color="#84cb56"/><stop offset="0.515" stop-color="#82cc58"/><stop offset="0.545" stop-color="#7fcc5a"/><stop offset="0.576" stop-color="#7ccc5c"/><stop offset="0.606" stop-color="#77cc60"/><stop offset="0.636" stop-color="#71cd65"/><stop offset="0.667" stop-color="#6acd6a"/><stop offset="0.697" stop-color="#63cd70"/><stop offset="0.727" stop-color="#5bcc77"/><stop offset="0.758" stop-color="#54cc7c"/><stop offset="0.788" stop-color="#51cc7f"/><stop offset="0.818" stop-color="#52cc7e"/><stop offset="0.848" stop-color="#52cc7e"/><stop offset="0.879" stop-color="#50cc7f"/><stop offset="0.909" stop-color="#4ecc81"/><stop offset="0.939" stop-color="#4ecc82"/><stop offset="0.970" stop-color="#51cc7e"/><stop offset="1.000" stop-color="#57cc7a"/></linearGradient>
<linearGradient id="g25" gradientUnits="userSpaceOnUse" x1="1535.9" y1="0" x2="1945.8" y2="0"><stop offset="0.000" stop-color="#19addc"/><stop offset="0.029" stop-color="#10b2d5"/><stop offset="0.057" stop-color="#01b8c8"/><stop offset="0.086" stop-color="#16bfb7"/><stop offset="0.114" stop-color="#30c5a1"/><stop offset="0.143" stop-color="#42ca8b"/><stop offset="0.171" stop-color="#56cc7b"/><stop offset="0.200" stop-color="#69cd6b"/><stop offset="0.229" stop-color="#79cc5e"/><stop offset="0.257" stop-color="#84cc56"/><stop offset="0.286" stop-color="#8acb52"/><stop offset="0.314" stop-color="#8ecb4f"/><stop offset="0.343" stop-color="#8ecb4f"/><stop offset="0.371" stop-color="#89cb53"/><stop offset="0.400" stop-color="#82cc58"/><stop offset="0.429" stop-color="#7dcc5b"/><stop offset="0.457" stop-color="#7acc5d"/><stop offset="0.486" stop-color="#78cc5f"/><stop offset="0.514" stop-color="#75cc61"/><stop offset="0.543" stop-color="#73cd63"/><stop offset="0.571" stop-color="#70cd65"/><stop offset="0.600" stop-color="#6ccd68"/><stop offset="0.629" stop-color="#67cd6c"/><stop offset="0.657" stop-color="#61cd71"/><stop offset="0.686" stop-color="#5ccc76"/><stop offset="0.714" stop-color="#54cc7c"/><stop offset="0.743" stop-color="#4dcc82"/><stop offset="0.771" stop-color="#48cb86"/><stop offset="0.800" stop-color="#47cb87"/><stop offset="0.829" stop-color="#47cb87"/><stop offset="0.857" stop-color="#46cb88"/><stop offset="0.886" stop-color="#45cb89"/><stop offset="0.914" stop-color="#43ca8a"/><stop offset="0.943" stop-color="#44cb8a"/><stop offset="0.971" stop-color="#48cb86"/><stop offset="1.000" stop-color="#4ecc81"/></linearGradient>
<linearGradient id="g26" gradientUnits="userSpaceOnUse" x1="1524.1" y1="0" x2="1948.8" y2="0"><stop offset="0.000" stop-color="#1da9e0"/><stop offset="0.028" stop-color="#1baadf"/><stop offset="0.056" stop-color="#15afd9"/><stop offset="0.083" stop-color="#04b6cd"/><stop offset="0.111" stop-color="#0cbdbc"/><stop offset="0.139" stop-color="#2bc3a8"/><stop offset="0.167" stop-color="#3ac994"/><stop offset="0.194" stop-color="#4acb85"/><stop offset="0.222" stop-color="#5dcc75"/><stop offset="0.250" stop-color="#6dcd68"/><stop offset="0.278" stop-color="#77cc60"/><stop offset="0.306" stop-color="#7ecc5b"/><stop offset="0.333" stop-color="#82cc58"/><stop offset="0.361" stop-color="#81cc58"/><stop offset="0.389" stop-color="#7ccc5c"/><stop offset="0.417" stop-color="#75cc61"/><stop offset="0.444" stop-color="#71cd64"/><stop offset="0.472" stop-color="#6ecd67"/><stop offset="0.500" stop-color="#6bcd69"/><stop offset="0.528" stop-color="#68cd6b"/><stop offset="0.556" stop-color="#66cd6d"/><stop offset="0.583" stop-color="#64cd6f"/><stop offset="0.611" stop-color="#60cd72"/><stop offset="0.639" stop-color="#5bcc76"/><stop offset="0.667" stop-color="#56cc7b"/><stop offset="0.694" stop-color="#50cc80"/><stop offset="0.722" stop-color="#49cb85"/><stop offset="0.750" stop-color="#43ca8b"/><stop offset="0.778" stop-color="#3fca8e"/><stop offset="0.806" stop-color="#3eca8f"/><stop offset="0.833" stop-color="#3eca8f"/><stop offset="0.861" stop-color="#3dc990"/><stop offset="0.889" stop-color="#3cc992"/><stop offset="0.917" stop-color="#3bc993"/><stop offset="0.944" stop-color="#3cc991"/><stop offset="0.972" stop-color="#40ca8d"/><stop offset="1.000" stop-color="#45cb88"/></linearGradient>
<linearGradient id="g27" gradientUnits="userSpaceOnUse" x1="1512.4" y1="0" x2="1951.7" y2="0"><stop offset="0.000" stop-color="#1ea7e1"/><stop offset="0.027" stop-color="#1ea6e1"/><stop offset="0.054" stop-color="#1da8e0"/><stop offset="0.081" stop-color="#18addb"/><stop offset="0.108" stop-color="#08b4d0"/><stop offset="0.135" stop-color="#05bbc1"/><stop offset="0.162" stop-color="#24c1ae"/><stop offset="0.189" stop-color="#34c79c"/><stop offset="0.216" stop-color="#40ca8d"/><stop offset="0.243" stop-color="#52cc7e"/><stop offset="0.270" stop-color="#61cd71"/><stop offset="0.297" stop-color="#6ccd68"/><stop offset="0.324" stop-color="#72cd63"/><stop offset="0.351" stop-color="#76cc61"/><stop offset="0.378" stop-color="#75cc61"/><stop offset="0.405" stop-color="#6fcd65"/><stop offset="0.432" stop-color="#69cd6a"/><stop offset="0.459" stop-color="#65cd6e"/><stop offset="0.486" stop-color="#63cd70"/><stop offset="0.514" stop-color="#60cd73"/><stop offset="0.541" stop-color="#5dcc75"/><stop offset="0.568" stop-color="#5bcc77"/><stop offset="0.595" stop-color="#58cc79"/><stop offset="0.622" stop-color="#55cc7c"/><stop offset="0.649" stop-color="#50cc80"/><stop offset="0.676" stop-color="#4acb84"/><stop offset="0.703" stop-color="#45cb89"/><stop offset="0.730" stop-color="#3fca8e"/><stop offset="0.757" stop-color="#3bc993"/><stop offset="0.784" stop-color="#38c896"/><stop offset="0.811" stop-color="#37c897"/><stop offset="0.838" stop-color="#37c897"/><stop offset="0.865" stop-color="#36c898"/><stop offset="0.892" stop-color="#35c79a"/><stop offset="0.919" stop-color="#35c79a"/><stop offset="0.946" stop-color="#36c898"/><stop offset="0.973" stop-color="#3ac994"/><stop offset="1.000" stop-color="#3eca8f"/></linearGradient>
<linearGradient id="g28" gradientUnits="userSpaceOnUse" x1="1500.7" y1="0" x2="1954.6" y2="0"><stop offset="0.000" stop-color="#1fa5e2"/><stop offset="0.026" stop-color="#20a5e2"/><stop offset="0.053" stop-color="#20a5e2"/><stop offset="0.079" stop-color="#1fa6e2"/><stop offset="0.105" stop-color="#1aabdd"/><stop offset="0.132" stop-color="#0db3d4"/><stop offset="0.158" stop-color="#01bac5"/><stop offset="0.184" stop-color="#1bc0b4"/><stop offset="0.211" stop-color="#2fc5a3"/><stop offset="0.237" stop-color="#3ac994"/><stop offset="0.263" stop-color="#48cb86"/><stop offset="0.289" stop-color="#57cc7a"/><stop offset="0.316" stop-color="#62cd71"/><stop offset="0.342" stop-color="#68cd6b"/><stop offset="0.368" stop-color="#6bcd69"/><stop offset="0.395" stop-color="#69cd6a"/><stop offset="0.421" stop-color="#64cd6f"/><stop offset="0.447" stop-color="#5fcd73"/><stop offset="0.474" stop-color="#5bcc76"/><stop offset="0.500" stop-color="#58cc79"/><stop offset="0.526" stop-color="#55cc7c"/><stop offset="0.553" stop-color="#52cc7e"/><stop offset="0.579" stop-color="#50cc80"/><stop offset="0.605" stop-color="#4dcc82"/><stop offset="0.632" stop-color="#4acb85"/><stop offset="0.658" stop-color="#46cb88"/><stop offset="0.684" stop-color="#41ca8c"/><stop offset="0.711" stop-color="#3cc991"/><stop offset="0.737" stop-color="#38c896"/><stop offset="0.763" stop-color="#35c79a"/><stop offset="0.789" stop-color="#33c79c"/><stop offset="0.816" stop-color="#33c69e"/><stop offset="0.842" stop-color="#32c69f"/><stop offset="0.868" stop-color="#31c6a0"/><stop offset="0.895" stop-color="#30c5a1"/><stop offset="0.921" stop-color="#31c6a1"/><stop offset="0.947" stop-color="#32c69e"/><stop offset="0.974" stop-color="#35c79a"/><stop offset="1.000" stop-color="#38c896"/></linearGradient>
<linearGradient id="g29" gradientUnits="userSpaceOnUse" x1="1489.0" y1="0" x2="1957.5" y2="0"><stop offset="0.000" stop-color="#21a3e3"/><stop offset="0.025" stop-color="#20a4e3"/><stop offset="0.050" stop-color="#21a4e3"/><stop offset="0.075" stop-color="#21a3e3"/><stop offset="0.100" stop-color="#20a4e3"/><stop offset="0.125" stop-color="#1ca9e0"/><stop offset="0.150" stop-color="#14b0d8"/><stop offset="0.175" stop-color="#03b7cc"/><stop offset="0.200" stop-color="#0bbdbc"/><stop offset="0.225" stop-color="#26c2ad"/><stop offset="0.250" stop-color="#32c69e"/><stop offset="0.275" stop-color="#3dc991"/><stop offset="0.300" stop-color="#4acb84"/><stop offset="0.325" stop-color="#56cc7b"/><stop offset="0.350" stop-color="#5dcc75"/><stop offset="0.375" stop-color="#61cd72"/><stop offset="0.400" stop-color="#60cd72"/><stop offset="0.425" stop-color="#5dcc75"/><stop offset="0.450" stop-color="#57cc7a"/><stop offset="0.475" stop-color="#53cc7d"/><stop offset="0.500" stop-color="#50cc80"/><stop offset="0.525" stop-color="#4ccb83"/><stop offset="0.550" stop-color="#49cb85"/><stop offset="0.575" stop-color="#47cb87"/><stop offset="0.600" stop-color="#45cb89"/><stop offset="0.625" stop-color="#42ca8b"/><stop offset="0.650" stop-color="#3fca8e"/><stop offset="0.675" stop-color="#3cc992"/><stop offset="0.700" stop-color="#38c896"/><stop offset="0.725" stop-color="#35c79a"/><stop offset="0.750" stop-color="#32c69e"/><stop offset="0.775" stop-color="#30c5a1"/><stop offset="0.800" stop-color="#2fc5a3"/><stop offset="0.825" stop-color="#2ec4a4"/><stop offset="0.850" stop-color="#2dc4a6"/><stop offset="0.875" stop-color="#2cc4a7"/><stop offset="0.900" stop-color="#2cc4a7"/><stop offset="0.925" stop-color="#2cc4a6"/><stop offset="0.950" stop-color="#2ec5a4"/><stop offset="0.975" stop-color="#31c6a0"/><stop offset="1.000" stop-color="#34c79c"/></linearGradient>
<linearGradient id="g30" gradientUnits="userSpaceOnUse" x1="1477.2" y1="0" x2="1960.4" y2="0"><stop offset="0.000" stop-color="#23a0e5"/><stop offset="0.024" stop-color="#22a2e4"/><stop offset="0.049" stop-color="#22a2e4"/><stop offset="0.073" stop-color="#22a2e4"/><stop offset="0.098" stop-color="#22a2e4"/><stop offset="0.122" stop-color="#21a3e3"/><stop offset="0.146" stop-color="#1ea8e1"/><stop offset="0.171" stop-color="#17aeda"/><stop offset="0.195" stop-color="#07b5cf"/><stop offset="0.220" stop-color="#04bbc1"/><stop offset="0.244" stop-color="#1ec0b2"/><stop offset="0.268" stop-color="#2ec4a4"/><stop offset="0.293" stop-color="#37c897"/><stop offset="0.317" stop-color="#42ca8b"/><stop offset="0.341" stop-color="#4dcc82"/><stop offset="0.366" stop-color="#54cc7c"/><stop offset="0.390" stop-color="#58cc79"/><stop offset="0.415" stop-color="#57cc7a"/><stop offset="0.439" stop-color="#53cc7d"/><stop offset="0.463" stop-color="#4ecc81"/><stop offset="0.488" stop-color="#4acb84"/><stop offset="0.512" stop-color="#47cb87"/><stop offset="0.537" stop-color="#43ca8a"/><stop offset="0.561" stop-color="#40ca8d"/><stop offset="0.585" stop-color="#3eca8f"/><stop offset="0.610" stop-color="#3cc991"/><stop offset="0.634" stop-color="#3bc993"/><stop offset="0.659" stop-color="#39c895"/><stop offset="0.683" stop-color="#36c799"/><stop offset="0.707" stop-color="#33c69d"/><stop offset="0.732" stop-color="#30c5a1"/><stop offset="0.756" stop-color="#2ec4a5"/><stop offset="0.780" stop-color="#2cc4a7"/><stop offset="0.805" stop-color="#29c3a9"/><stop offset="0.829" stop-color="#28c3ab"/><stop offset="0.854" stop-color="#27c2ac"/><stop offset="0.878" stop-color="#25c2ad"/><stop offset="0.902" stop-color="#25c2ad"/><stop offset="0.927" stop-color="#27c2ac"/><stop offset="0.951" stop-color="#29c3a9"/><stop offset="0.976" stop-color="#2dc4a6"/><stop offset="1.000" stop-color="#2fc5a2"/></linearGradient>
<linearGradient id="g31" gradientUnits="userSpaceOnUse" x1="1465.5" y1="0" x2="1963.3" y2="0"><stop offset="0.000" stop-color="#259be7"/><stop offset="0.024" stop-color="#249ee6"/><stop offset="0.048" stop-color="#23a0e5"/><stop offset="0.071" stop-color="#23a1e4"/><stop offset="0.095" stop-color="#23a1e4"/><stop offset="0.119" stop-color="#23a1e4"/><stop offset="0.143" stop-color="#22a2e4"/><stop offset="0.167" stop-color="#1fa6e1"/><stop offset="0.190" stop-color="#19addc"/><stop offset="0.214" stop-color="#0bb3d2"/><stop offset="0.238" stop-color="#01b9c6"/><stop offset="0.262" stop-color="#15bfb7"/><stop offset="0.286" stop-color="#29c3a9"/><stop offset="0.310" stop-color="#33c69d"/><stop offset="0.333" stop-color="#3cc992"/><stop offset="0.357" stop-color="#45cb89"/><stop offset="0.381" stop-color="#4ccb83"/><stop offset="0.405" stop-color="#4fcc80"/><stop offset="0.429" stop-color="#4ecc81"/><stop offset="0.452" stop-color="#4acb84"/><stop offset="0.476" stop-color="#46cb88"/><stop offset="0.500" stop-color="#42ca8b"/><stop offset="0.524" stop-color="#3eca8f"/><stop offset="0.548" stop-color="#3cc992"/><stop offset="0.571" stop-color="#39c995"/><stop offset="0.595" stop-color="#37c897"/><stop offset="0.619" stop-color="#36c898"/><stop offset="0.643" stop-color="#35c79a"/><stop offset="0.667" stop-color="#33c79c"/><stop offset="0.690" stop-color="#31c6a0"/><stop offset="0.714" stop-color="#2ec5a4"/><stop offset="0.738" stop-color="#2bc3a8"/><stop offset="0.762" stop-color="#28c3ab"/><stop offset="0.786" stop-color="#25c2ad"/><stop offset="0.810" stop-color="#23c1af"/><stop offset="0.833" stop-color="#20c1b1"/><stop offset="0.857" stop-color="#1ec0b2"/><stop offset="0.881" stop-color="#1dc0b3"/><stop offset="0.905" stop-color="#1dc0b3"/><stop offset="0.929" stop-color="#1fc0b1"/><stop offset="0.952" stop-color="#24c1af"/><stop offset="0.976" stop-color="#28c2ab"/><stop offset="1.000" stop-color="#2bc3a8"/></linearGradient>
<linearGradient id="g32" gradientUnits="userSpaceOnUse" x1="1453.8" y1="0" x2="1966.2" y2="0"><stop offset="0.000" stop-color="#2698ea"/><stop offset="0.023" stop-color="#2699e9"/><stop offset="0.047" stop-color="#259ce7"/><stop offset="0.070" stop-color="#249ee6"/><stop offset="0.093" stop-color="#23a0e5"/><stop offset="0.116" stop-color="#23a0e5"/><stop offset="0.140" stop-color="#23a0e5"/><stop offset="0.163" stop-color="#22a1e4"/><stop offset="0.186" stop-color="#1fa5e2"/><stop offset="0.209" stop-color="#1aabdd"/><stop offset="0.233" stop-color="#10b2d5"/><stop offset="0.256" stop-color="#01b8ca"/><stop offset="0.279" stop-color="#0cbdbc"/><stop offset="0.302" stop-color="#24c1ae"/><stop offset="0.326" stop-color="#2fc5a2"/><stop offset="0.349" stop-color="#37c898"/><stop offset="0.372" stop-color="#3eca8f"/><stop offset="0.395" stop-color="#45cb89"/><stop offset="0.419" stop-color="#47cb87"/><stop offset="0.442" stop-color="#46cb88"/><stop offset="0.465" stop-color="#43ca8b"/><stop offset="0.488" stop-color="#3fca8e"/><stop offset="0.512" stop-color="#3cc992"/><stop offset="0.535" stop-color="#39c895"/><stop offset="0.558" stop-color="#36c899"/><stop offset="0.581" stop-color="#34c79b"/><stop offset="0.605" stop-color="#33c69e"/><stop offset="0.628" stop-color="#32c69f"/><stop offset="0.651" stop-color="#31c5a1"/><stop offset="0.674" stop-color="#2fc5a3"/><stop offset="0.698" stop-color="#2cc4a7"/><stop offset="0.721" stop-color="#28c3aa"/><stop offset="0.744" stop-color="#25c2ae"/><stop offset="0.767" stop-color="#21c1b1"/><stop offset="0.791" stop-color="#1dc0b3"/><stop offset="0.814" stop-color="#19bfb5"/><stop offset="0.837" stop-color="#16bfb7"/><stop offset="0.860" stop-color="#14beb8"/><stop offset="0.884" stop-color="#12beb9"/><stop offset="0.907" stop-color="#13beb8"/><stop offset="0.930" stop-color="#16bfb7"/><stop offset="0.953" stop-color="#1bc0b4"/><stop offset="0.977" stop-color="#21c1b0"/><stop offset="1.000" stop-color="#25c2ae"/></linearGradient>
<linearGradient id="g33" gradientUnits="userSpaceOnUse" x1="1442.1" y1="0" x2="1969.2" y2="0"><stop offset="0.000" stop-color="#2798ea"/><stop offset="0.023" stop-color="#2797eb"/><stop offset="0.045" stop-color="#2896ec"/><stop offset="0.068" stop-color="#2699e9"/><stop offset="0.091" stop-color="#259de7"/><stop offset="0.114" stop-color="#249ee6"/><stop offset="0.136" stop-color="#249fe6"/><stop offset="0.159" stop-color="#249fe5"/><stop offset="0.182" stop-color="#23a1e5"/><stop offset="0.205" stop-color="#20a4e3"/><stop offset="0.227" stop-color="#1caadf"/><stop offset="0.250" stop-color="#14b0d8"/><stop offset="0.273" stop-color="#04b6cd"/><stop offset="0.295" stop-color="#06bcc0"/><stop offset="0.318" stop-color="#1dc0b3"/><stop offset="0.341" stop-color="#2cc4a7"/><stop offset="0.364" stop-color="#33c79d"/><stop offset="0.386" stop-color="#3ac994"/><stop offset="0.409" stop-color="#3fca8f"/><stop offset="0.432" stop-color="#40ca8d"/><stop offset="0.455" stop-color="#3fca8e"/><stop offset="0.477" stop-color="#3dc991"/><stop offset="0.500" stop-color="#39c994"/><stop offset="0.523" stop-color="#37c898"/><stop offset="0.545" stop-color="#34c79b"/><stop offset="0.568" stop-color="#32c69f"/><stop offset="0.591" stop-color="#30c5a2"/><stop offset="0.614" stop-color="#2ec5a4"/><stop offset="0.636" stop-color="#2dc4a5"/><stop offset="0.659" stop-color="#2cc4a7"/><stop offset="0.682" stop-color="#29c3a9"/><stop offset="0.705" stop-color="#26c2ad"/><stop offset="0.727" stop-color="#20c1b1"/><stop offset="0.750" stop-color="#1bc0b4"/><stop offset="0.773" stop-color="#17bfb6"/><stop offset="0.795" stop-color="#12beb9"/><stop offset="0.818" stop-color="#0ebdbb"/><stop offset="0.841" stop-color="#0bbdbd"/><stop offset="0.864" stop-color="#09bcbe"/><stop offset="0.886" stop-color="#09bcbe"/><stop offset="0.909" stop-color="#09bdbe"/><stop offset="0.932" stop-color="#0cbdbc"/><stop offset="0.955" stop-color="#12beb9"/><stop offset="0.977" stop-color="#18bfb6"/><stop offset="1.000" stop-color="#1cc0b4"/></linearGradient>
<linearGradient id="g34" gradientUnits="userSpaceOnUse" x1="1430.3" y1="0" x2="1972.1" y2="0"><stop offset="0.000" stop-color="#2798ea"/><stop offset="0.022" stop-color="#2797eb"/><stop offset="0.043" stop-color="#2995ec"/><stop offset="0.065" stop-color="#2a93ee"/><stop offset="0.087" stop-color="#2796eb"/><stop offset="0.109" stop-color="#259be8"/><stop offset="0.130" stop-color="#249de7"/><stop offset="0.152" stop-color="#249ee6"/><stop offset="0.174" stop-color="#249ee6"/><stop offset="0.196" stop-color="#239fe5"/><stop offset="0.217" stop-color="#21a2e4"/><stop offset="0.239" stop-color="#1ea7e1"/><stop offset="0.261" stop-color="#19addc"/><stop offset="0.283" stop-color="#0db3d4"/><stop offset="0.304" stop-color="#01b8c8"/><stop offset="0.326" stop-color="#0dbdbb"/><stop offset="0.348" stop-color="#22c1b0"/><stop offset="0.370" stop-color="#2dc4a5"/><stop offset="0.391" stop-color="#34c79c"/><stop offset="0.413" stop-color="#38c896"/><stop offset="0.435" stop-color="#3bc993"/><stop offset="0.457" stop-color="#3bc993"/><stop offset="0.478" stop-color="#39c895"/><stop offset="0.500" stop-color="#36c898"/><stop offset="0.522" stop-color="#34c79c"/><stop offset="0.543" stop-color="#31c69f"/><stop offset="0.565" stop-color="#2fc5a3"/><stop offset="0.587" stop-color="#2cc4a6"/><stop offset="0.609" stop-color="#2ac3a9"/><stop offset="0.630" stop-color="#28c3ab"/><stop offset="0.652" stop-color="#27c2ac"/><stop offset="0.674" stop-color="#25c2ae"/><stop offset="0.696" stop-color="#21c1b1"/><stop offset="0.717" stop-color="#1ac0b4"/><stop offset="0.739" stop-color="#14bfb8"/><stop offset="0.761" stop-color="#0fbeba"/><stop offset="0.783" stop-color="#0bbdbd"/><stop offset="0.804" stop-color="#08bcbf"/><stop offset="0.826" stop-color="#05bbc1"/><stop offset="0.848" stop-color="#03bbc3"/><stop offset="0.870" stop-color="#02bac4"/><stop offset="0.891" stop-color="#02bac4"/><stop offset="0.913" stop-color="#02bbc3"/><stop offset="0.935" stop-color="#05bbc1"/><stop offset="0.957" stop-color="#09bcbe"/><stop offset="0.978" stop-color="#0ebdbb"/><stop offset="1.000" stop-color="#11beba"/></linearGradient>
<linearGradient id="g35" gradientUnits="userSpaceOnUse" x1="1418.6" y1="0" x2="1975.0" y2="0"><stop offset="0.000" stop-color="#2896eb"/><stop offset="0.021" stop-color="#2896eb"/><stop offset="0.043" stop-color="#2895ec"/><stop offset="0.064" stop-color="#2a92ee"/><stop offset="0.085" stop-color="#2b91ef"/><stop offset="0.106" stop-color="#2994ed"/><stop offset="0.128" stop-color="#2698ea"/><stop offset="0.149" stop-color="#259ce7"/><stop offset="0.170" stop-color="#259de7"/><stop offset="0.191" stop-color="#249de6"/><stop offset="0.213" stop-color="#249fe6"/><stop offset="0.234" stop-color="#22a1e4"/><stop offset="0.255" stop-color="#1fa6e2"/><stop offset="0.277" stop-color="#1aabde"/><stop offset="0.298" stop-color="#12b1d6"/><stop offset="0.319" stop-color="#03b7cc"/><stop offset="0.340" stop-color="#07bcc0"/><stop offset="0.362" stop-color="#1bc0b4"/><stop offset="0.383" stop-color="#29c3aa"/><stop offset="0.404" stop-color="#30c5a1"/><stop offset="0.426" stop-color="#35c79a"/><stop offset="0.447" stop-color="#36c898"/><stop offset="0.468" stop-color="#36c898"/><stop offset="0.489" stop-color="#35c79b"/><stop offset="0.511" stop-color="#33c69d"/><stop offset="0.532" stop-color="#30c5a1"/><stop offset="0.553" stop-color="#2ec4a5"/><stop offset="0.574" stop-color="#2ac3a9"/><stop offset="0.596" stop-color="#26c2ac"/><stop offset="0.617" stop-color="#23c1af"/><stop offset="0.638" stop-color="#21c1b0"/><stop offset="0.660" stop-color="#1fc0b2"/><stop offset="0.681" stop-color="#1cc0b4"/><stop offset="0.702" stop-color="#16bfb7"/><stop offset="0.723" stop-color="#0fbebb"/><stop offset="0.745" stop-color="#09bdbe"/><stop offset="0.766" stop-color="#06bcc0"/><stop offset="0.787" stop-color="#03bbc2"/><stop offset="0.809" stop-color="#02bac5"/><stop offset="0.830" stop-color="#01b9c7"/><stop offset="0.851" stop-color="#01b8c8"/><stop offset="0.872" stop-color="#01b8c9"/><stop offset="0.894" stop-color="#01b8c9"/><stop offset="0.915" stop-color="#01b8c8"/><stop offset="0.936" stop-color="#01b9c6"/><stop offset="0.957" stop-color="#02bac3"/><stop offset="0.979" stop-color="#05bbc1"/><stop offset="1.000" stop-color="#07bcc0"/></linearGradient>
<linearGradient id="g36" gradientUnits="userSpaceOnUse" x1="1427.4" y1="0" x2="1977.9" y2="0"><stop offset="0.000" stop-color="#2a93ed"/><stop offset="0.022" stop-color="#2a93ee"/><stop offset="0.043" stop-color="#2b91ef"/><stop offset="0.065" stop-color="#2c90f0"/><stop offset="0.087" stop-color="#2b91ef"/><stop offset="0.109" stop-color="#2994ed"/><stop offset="0.130" stop-color="#2699e9"/><stop offset="0.152" stop-color="#259be8"/><stop offset="0.174" stop-color="#259ce7"/><stop offset="0.196" stop-color="#249de6"/><stop offset="0.217" stop-color="#23a0e5"/><stop offset="0.239" stop-color="#21a4e3"/><stop offset="0.261" stop-color="#1da8e0"/><stop offset="0.283" stop-color="#17aedb"/><stop offset="0.304" stop-color="#0ab4d1"/><stop offset="0.326" stop-color="#01b9c6"/><stop offset="0.348" stop-color="#0fbebb"/><stop offset="0.370" stop-color="#22c1b0"/><stop offset="0.391" stop-color="#2cc4a7"/><stop offset="0.413" stop-color="#31c6a0"/><stop offset="0.435" stop-color="#33c69d"/><stop offset="0.457" stop-color="#33c69d"/><stop offset="0.478" stop-color="#31c69f"/><stop offset="0.500" stop-color="#30c5a2"/><stop offset="0.522" stop-color="#2dc4a5"/><stop offset="0.543" stop-color="#2ac3a9"/><stop offset="0.565" stop-color="#25c2ad"/><stop offset="0.587" stop-color="#1fc1b1"/><stop offset="0.609" stop-color="#1bc0b4"/><stop offset="0.630" stop-color="#18bfb6"/><stop offset="0.652" stop-color="#15bfb7"/><stop offset="0.674" stop-color="#11beb9"/><stop offset="0.696" stop-color="#0bbdbd"/><stop offset="0.717" stop-color="#05bbc1"/><stop offset="0.739" stop-color="#02bac4"/><stop offset="0.761" stop-color="#01b9c6"/><stop offset="0.783" stop-color="#01b8c8"/><stop offset="0.804" stop-color="#02b7ca"/><stop offset="0.826" stop-color="#04b6cc"/><stop offset="0.848" stop-color="#05b6ce"/><stop offset="0.870" stop-color="#06b6ce"/><stop offset="0.891" stop-color="#05b6ce"/><stop offset="0.913" stop-color="#04b6cd"/><stop offset="0.935" stop-color="#02b7cb"/><stop offset="0.957" stop-color="#01b8c9"/><stop offset="0.978" stop-color="#01b9c7"/><stop offset="1.000" stop-color="#01b9c6"/></linearGradient>
<linearGradient id="g37" gradientUnits="userSpaceOnUse" x1="1436.2" y1="0" x2="1980.8" y2="0"><stop offset="0.000" stop-color="#2b91ef"/><stop offset="0.022" stop-color="#2b90f0"/><stop offset="0.043" stop-color="#2c8ff0"/><stop offset="0.065" stop-color="#2c8ff0"/><stop offset="0.087" stop-color="#2b91ef"/><stop offset="0.109" stop-color="#2994ed"/><stop offset="0.130" stop-color="#2798ea"/><stop offset="0.152" stop-color="#269ae8"/><stop offset="0.174" stop-color="#259ce7"/><stop offset="0.196" stop-color="#249ee6"/><stop offset="0.217" stop-color="#23a1e5"/><stop offset="0.239" stop-color="#20a4e3"/><stop offset="0.261" stop-color="#1ca9df"/><stop offset="0.283" stop-color="#16afd9"/><stop offset="0.304" stop-color="#07b5d0"/><stop offset="0.326" stop-color="#02bac5"/><stop offset="0.348" stop-color="#10beba"/><stop offset="0.370" stop-color="#22c1b0"/><stop offset="0.391" stop-color="#2bc3a7"/><stop offset="0.413" stop-color="#2fc5a3"/><stop offset="0.435" stop-color="#30c5a2"/><stop offset="0.457" stop-color="#2fc5a3"/><stop offset="0.478" stop-color="#2dc4a5"/><stop offset="0.500" stop-color="#2bc3a8"/><stop offset="0.522" stop-color="#27c2ab"/><stop offset="0.543" stop-color="#22c1b0"/><stop offset="0.565" stop-color="#1bc0b4"/><stop offset="0.587" stop-color="#14beb8"/><stop offset="0.609" stop-color="#0fbebb"/><stop offset="0.630" stop-color="#0cbdbc"/><stop offset="0.652" stop-color="#0abdbd"/><stop offset="0.674" stop-color="#06bcc0"/><stop offset="0.696" stop-color="#02bac4"/><stop offset="0.717" stop-color="#01b9c8"/><stop offset="0.739" stop-color="#01b8ca"/><stop offset="0.761" stop-color="#03b7cc"/><stop offset="0.783" stop-color="#05b6ce"/><stop offset="0.804" stop-color="#08b4d0"/><stop offset="0.826" stop-color="#0ab4d2"/><stop offset="0.848" stop-color="#0cb3d3"/><stop offset="0.870" stop-color="#0db3d3"/><stop offset="0.891" stop-color="#0db3d3"/><stop offset="0.913" stop-color="#0bb3d2"/><stop offset="0.935" stop-color="#08b4d0"/><stop offset="0.957" stop-color="#05b6ce"/><stop offset="0.978" stop-color="#04b6cc"/><stop offset="1.000" stop-color="#04b6cd"/></linearGradient>
<linearGradient id="g38" gradientUnits="userSpaceOnUse" x1="1445.0" y1="0" x2="1983.7" y2="0"><stop offset="0.000" stop-color="#2c8ff0"/><stop offset="0.022" stop-color="#2c8ff1"/><stop offset="0.044" stop-color="#2c8ff1"/><stop offset="0.067" stop-color="#2c8ff0"/><stop offset="0.089" stop-color="#2b91ef"/><stop offset="0.111" stop-color="#2994ed"/><stop offset="0.133" stop-color="#2797eb"/><stop offset="0.156" stop-color="#269ae9"/><stop offset="0.178" stop-color="#259ce7"/><stop offset="0.200" stop-color="#249ee6"/><stop offset="0.222" stop-color="#22a2e4"/><stop offset="0.244" stop-color="#1fa6e2"/><stop offset="0.267" stop-color="#1aacdd"/><stop offset="0.289" stop-color="#10b2d5"/><stop offset="0.311" stop-color="#02b7cb"/><stop offset="0.333" stop-color="#06bcc0"/><stop offset="0.356" stop-color="#18bfb6"/><stop offset="0.378" stop-color="#26c2ad"/><stop offset="0.400" stop-color="#2bc3a8"/><stop offset="0.422" stop-color="#2cc4a6"/><stop offset="0.444" stop-color="#2cc4a7"/><stop offset="0.467" stop-color="#2ac3a9"/><stop offset="0.489" stop-color="#27c2ac"/><stop offset="0.511" stop-color="#23c1af"/><stop offset="0.533" stop-color="#1cc0b4"/><stop offset="0.556" stop-color="#12beb9"/><stop offset="0.578" stop-color="#0abdbd"/><stop offset="0.600" stop-color="#06bcc0"/><stop offset="0.622" stop-color="#04bbc2"/><stop offset="0.644" stop-color="#02bbc3"/><stop offset="0.667" stop-color="#01b9c6"/><stop offset="0.689" stop-color="#01b8ca"/><stop offset="0.711" stop-color="#05b6cd"/><stop offset="0.733" stop-color="#07b5d0"/><stop offset="0.756" stop-color="#09b4d1"/><stop offset="0.778" stop-color="#0db3d3"/><stop offset="0.800" stop-color="#11b1d6"/><stop offset="0.822" stop-color="#13b1d7"/><stop offset="0.844" stop-color="#14b0d8"/><stop offset="0.867" stop-color="#14b0d8"/><stop offset="0.889" stop-color="#14b0d8"/><stop offset="0.911" stop-color="#13b0d7"/><stop offset="0.933" stop-color="#11b1d6"/><stop offset="0.956" stop-color="#0db3d4"/><stop offset="0.978" stop-color="#0cb3d3"/><stop offset="1.000" stop-color="#0cb3d3"/></linearGradient>
<linearGradient id="g39" gradientUnits="userSpaceOnUse" x1="1453.7" y1="0" x2="1986.6" y2="0"><stop offset="0.000" stop-color="#2c8ff1"/><stop offset="0.022" stop-color="#2c8ef1"/><stop offset="0.044" stop-color="#2c8ff1"/><stop offset="0.067" stop-color="#2c90f0"/><stop offset="0.089" stop-color="#2b91ef"/><stop offset="0.111" stop-color="#2a93ed"/><stop offset="0.133" stop-color="#2896eb"/><stop offset="0.156" stop-color="#2699e9"/><stop offset="0.178" stop-color="#259ce7"/><stop offset="0.200" stop-color="#249fe6"/><stop offset="0.222" stop-color="#22a2e4"/><stop offset="0.244" stop-color="#1ea7e1"/><stop offset="0.267" stop-color="#19acdc"/><stop offset="0.289" stop-color="#0eb3d4"/><stop offset="0.311" stop-color="#01b8ca"/><stop offset="0.333" stop-color="#07bcbf"/><stop offset="0.356" stop-color="#19bfb5"/><stop offset="0.378" stop-color="#24c1ae"/><stop offset="0.400" stop-color="#27c2ab"/><stop offset="0.422" stop-color="#28c2ab"/><stop offset="0.444" stop-color="#26c2ac"/><stop offset="0.467" stop-color="#24c1ae"/><stop offset="0.489" stop-color="#20c1b1"/><stop offset="0.511" stop-color="#1abfb5"/><stop offset="0.533" stop-color="#10beba"/><stop offset="0.556" stop-color="#07bcc0"/><stop offset="0.578" stop-color="#02bac4"/><stop offset="0.600" stop-color="#01b9c6"/><stop offset="0.622" stop-color="#01b9c7"/><stop offset="0.644" stop-color="#01b8c9"/><stop offset="0.667" stop-color="#04b6cd"/><stop offset="0.689" stop-color="#09b4d1"/><stop offset="0.711" stop-color="#0eb2d4"/><stop offset="0.733" stop-color="#10b2d5"/><stop offset="0.756" stop-color="#13b0d7"/><stop offset="0.778" stop-color="#15afd9"/><stop offset="0.800" stop-color="#17aeda"/><stop offset="0.822" stop-color="#18addb"/><stop offset="0.844" stop-color="#19addc"/><stop offset="0.867" stop-color="#19acdc"/><stop offset="0.889" stop-color="#19addc"/><stop offset="0.911" stop-color="#18addb"/><stop offset="0.933" stop-color="#17aeda"/><stop offset="0.956" stop-color="#15afd9"/><stop offset="0.978" stop-color="#15afd8"/><stop offset="1.000" stop-color="#15afd9"/></linearGradient>
<linearGradient id="g40" gradientUnits="userSpaceOnUse" x1="1462.5" y1="0" x2="1989.5" y2="0"><stop offset="0.000" stop-color="#2c8ef1"/><stop offset="0.023" stop-color="#2c8ef1"/><stop offset="0.045" stop-color="#2c8ff1"/><stop offset="0.068" stop-color="#2c90f0"/><stop offset="0.091" stop-color="#2b91ef"/><stop offset="0.114" stop-color="#2a93ee"/><stop offset="0.136" stop-color="#2895ec"/><stop offset="0.159" stop-color="#2698ea"/><stop offset="0.182" stop-color="#259ce7"/><stop offset="0.205" stop-color="#249fe5"/><stop offset="0.227" stop-color="#21a3e3"/><stop offset="0.250" stop-color="#1da9e0"/><stop offset="0.273" stop-color="#15afd9"/><stop offset="0.295" stop-color="#07b5d0"/><stop offset="0.318" stop-color="#01bac5"/><stop offset="0.341" stop-color="#0dbdbb"/><stop offset="0.364" stop-color="#1cc0b3"/><stop offset="0.386" stop-color="#22c1b0"/><stop offset="0.409" stop-color="#23c1af"/><stop offset="0.432" stop-color="#21c1b0"/><stop offset="0.455" stop-color="#1ec0b2"/><stop offset="0.477" stop-color="#1ac0b5"/><stop offset="0.500" stop-color="#13beb8"/><stop offset="0.523" stop-color="#09bcbe"/><stop offset="0.545" stop-color="#02bac4"/><stop offset="0.568" stop-color="#01b8c8"/><stop offset="0.591" stop-color="#02b7cb"/><stop offset="0.614" stop-color="#04b6cd"/><stop offset="0.636" stop-color="#06b5cf"/><stop offset="0.659" stop-color="#0cb3d3"/><stop offset="0.682" stop-color="#13b1d7"/><stop offset="0.705" stop-color="#15afd9"/><stop offset="0.727" stop-color="#17aeda"/><stop offset="0.750" stop-color="#19addc"/><stop offset="0.773" stop-color="#1aabdd"/><stop offset="0.795" stop-color="#1baade"/><stop offset="0.818" stop-color="#1caadf"/><stop offset="0.841" stop-color="#1ca9df"/><stop offset="0.864" stop-color="#1da9e0"/><stop offset="0.886" stop-color="#1da9e0"/><stop offset="0.909" stop-color="#1ca9df"/><stop offset="0.932" stop-color="#1caadf"/><stop offset="0.955" stop-color="#1babde"/><stop offset="0.977" stop-color="#1babde"/><stop offset="1.000" stop-color="#1babde"/></linearGradient>
<linearGradient id="g41" gradientUnits="userSpaceOnUse" x1="1471.3" y1="0" x2="1992.5" y2="0"><stop offset="0.000" stop-color="#2c8ef1"/><stop offset="0.023" stop-color="#2c8ef1"/><stop offset="0.045" stop-color="#2c8ff1"/><stop offset="0.068" stop-color="#2c8ff0"/><stop offset="0.091" stop-color="#2b90f0"/><stop offset="0.114" stop-color="#2b92ee"/><stop offset="0.136" stop-color="#2994ed"/><stop offset="0.159" stop-color="#2797ea"/><stop offset="0.182" stop-color="#259be8"/><stop offset="0.205" stop-color="#249fe6"/><stop offset="0.227" stop-color="#21a3e3"/><stop offset="0.250" stop-color="#1ca9df"/><stop offset="0.273" stop-color="#14b0d8"/><stop offset="0.295" stop-color="#06b5cf"/><stop offset="0.318" stop-color="#02bac5"/><stop offset="0.341" stop-color="#0dbdbb"/><stop offset="0.364" stop-color="#19bfb6"/><stop offset="0.386" stop-color="#1cc0b3"/><stop offset="0.409" stop-color="#1bc0b4"/><stop offset="0.432" stop-color="#19bfb5"/><stop offset="0.455" stop-color="#16bfb7"/><stop offset="0.477" stop-color="#11beba"/><stop offset="0.500" stop-color="#09bcbe"/><stop offset="0.523" stop-color="#02bac5"/><stop offset="0.545" stop-color="#02b7cb"/><stop offset="0.568" stop-color="#06b5cf"/><stop offset="0.591" stop-color="#09b4d1"/><stop offset="0.614" stop-color="#0bb3d2"/><stop offset="0.636" stop-color="#10b2d5"/><stop offset="0.659" stop-color="#16afda"/><stop offset="0.682" stop-color="#19acdc"/><stop offset="0.705" stop-color="#1babde"/><stop offset="0.727" stop-color="#1caadf"/><stop offset="0.750" stop-color="#1da8e0"/><stop offset="0.773" stop-color="#1ea7e1"/><stop offset="0.795" stop-color="#1fa6e1"/><stop offset="0.818" stop-color="#1fa6e2"/><stop offset="0.841" stop-color="#1fa5e2"/><stop offset="0.864" stop-color="#20a5e2"/><stop offset="0.886" stop-color="#20a5e2"/><stop offset="0.909" stop-color="#20a5e2"/><stop offset="0.932" stop-color="#1fa5e2"/><stop offset="0.955" stop-color="#1fa6e2"/><stop offset="0.977" stop-color="#1fa6e2"/><stop offset="1.000" stop-color="#1fa5e2"/></linearGradient>
<linearGradient id="g42" gradientUnits="userSpaceOnUse" x1="1480.1" y1="0" x2="1995.4" y2="0"><stop offset="0.000" stop-color="#2c8ef1"/><stop offset="0.023" stop-color="#2c8ef1"/><stop offset="0.047" stop-color="#2c8ff1"/><stop offset="0.070" stop-color="#2c8ff0"/><stop offset="0.093" stop-color="#2c90f0"/><stop offset="0.116" stop-color="#2b91ef"/><stop offset="0.140" stop-color="#2994ed"/><stop offset="0.163" stop-color="#2797eb"/><stop offset="0.186" stop-color="#259be8"/><stop offset="0.209" stop-color="#249fe5"/><stop offset="0.233" stop-color="#20a5e2"/><stop offset="0.256" stop-color="#1aacdd"/><stop offset="0.279" stop-color="#0fb2d5"/><stop offset="0.302" stop-color="#02b7cb"/><stop offset="0.326" stop-color="#05bbc1"/><stop offset="0.349" stop-color="#0fbeba"/><stop offset="0.372" stop-color="#14bfb8"/><stop offset="0.395" stop-color="#14bfb8"/><stop offset="0.419" stop-color="#12beb9"/><stop offset="0.442" stop-color="#0fbeba"/><stop offset="0.465" stop-color="#0bbdbd"/><stop offset="0.488" stop-color="#05bbc1"/><stop offset="0.512" stop-color="#01b9c8"/><stop offset="0.535" stop-color="#06b5ce"/><stop offset="0.558" stop-color="#0db3d3"/><stop offset="0.581" stop-color="#12b1d6"/><stop offset="0.605" stop-color="#13b0d7"/><stop offset="0.628" stop-color="#17aeda"/><stop offset="0.651" stop-color="#1baade"/><stop offset="0.674" stop-color="#1da8e0"/><stop offset="0.698" stop-color="#1ea7e1"/><stop offset="0.721" stop-color="#1fa5e2"/><stop offset="0.744" stop-color="#20a4e3"/><stop offset="0.767" stop-color="#21a3e3"/><stop offset="0.791" stop-color="#22a2e4"/><stop offset="0.814" stop-color="#22a1e4"/><stop offset="0.837" stop-color="#23a1e4"/><stop offset="0.860" stop-color="#23a1e5"/><stop offset="0.884" stop-color="#23a0e5"/><stop offset="0.907" stop-color="#23a0e5"/><stop offset="0.930" stop-color="#23a0e5"/><stop offset="0.953" stop-color="#23a0e5"/><stop offset="0.977" stop-color="#23a0e5"/><stop offset="1.000" stop-color="#249fe5"/></linearGradient>
<linearGradient id="g43" gradientUnits="userSpaceOnUse" x1="1488.9" y1="0" x2="1998.3" y2="0"><stop offset="0.000" stop-color="#2c8ef1"/><stop offset="0.023" stop-color="#2c8ef1"/><stop offset="0.047" stop-color="#2c8ff1"/><stop offset="0.070" stop-color="#2c8ff1"/><stop offset="0.093" stop-color="#2c90f0"/><stop offset="0.116" stop-color="#2b91ef"/><stop offset="0.140" stop-color="#2a93ee"/><stop offset="0.163" stop-color="#2896ec"/><stop offset="0.186" stop-color="#269ae9"/><stop offset="0.209" stop-color="#249fe5"/><stop offset="0.233" stop-color="#1fa6e2"/><stop offset="0.256" stop-color="#19acdc"/><stop offset="0.279" stop-color="#0db3d4"/><stop offset="0.302" stop-color="#01b8ca"/><stop offset="0.326" stop-color="#05bbc1"/><stop offset="0.349" stop-color="#0bbdbd"/><stop offset="0.372" stop-color="#0dbdbc"/><stop offset="0.395" stop-color="#0cbdbc"/><stop offset="0.419" stop-color="#0abdbd"/><stop offset="0.442" stop-color="#09bcbe"/><stop offset="0.465" stop-color="#04bbc1"/><stop offset="0.488" stop-color="#01b9c7"/><stop offset="0.512" stop-color="#06b5ce"/><stop offset="0.535" stop-color="#0fb2d5"/><stop offset="0.558" stop-color="#15afd9"/><stop offset="0.581" stop-color="#18addb"/><stop offset="0.605" stop-color="#1aacdd"/><stop offset="0.628" stop-color="#1da8e0"/><stop offset="0.651" stop-color="#20a5e3"/><stop offset="0.674" stop-color="#21a3e3"/><stop offset="0.698" stop-color="#22a1e4"/><stop offset="0.721" stop-color="#23a0e5"/><stop offset="0.744" stop-color="#249fe5"/><stop offset="0.767" stop-color="#249ee6"/><stop offset="0.791" stop-color="#249de6"/><stop offset="0.814" stop-color="#259de7"/><stop offset="0.837" stop-color="#259ce7"/><stop offset="0.860" stop-color="#259ce7"/><stop offset="0.884" stop-color="#269be8"/><stop offset="0.907" stop-color="#269ae8"/><stop offset="0.930" stop-color="#269ae9"/><stop offset="0.953" stop-color="#269ae9"/><stop offset="0.977" stop-color="#2699e9"/><stop offset="1.000" stop-color="#2798ea"/></linearGradient>
<linearGradient id="g44" gradientUnits="userSpaceOnUse" x1="1497.7" y1="0" x2="2001.2" y2="0"><stop offset="0.000" stop-color="#2c8ef1"/><stop offset="0.024" stop-color="#2c8ef1"/><stop offset="0.048" stop-color="#2c8ff1"/><stop offset="0.071" stop-color="#2c8ff1"/><stop offset="0.095" stop-color="#2c8ff0"/><stop offset="0.119" stop-color="#2b90ef"/><stop offset="0.143" stop-color="#2a92ee"/><stop offset="0.167" stop-color="#2895ec"/><stop offset="0.190" stop-color="#269ae8"/><stop offset="0.214" stop-color="#22a1e4"/><stop offset="0.238" stop-color="#1da8e0"/><stop offset="0.262" stop-color="#16afd9"/><stop offset="0.286" stop-color="#07b5cf"/><stop offset="0.310" stop-color="#01b9c6"/><stop offset="0.333" stop-color="#05bbc1"/><stop offset="0.357" stop-color="#07bcc0"/><stop offset="0.381" stop-color="#06bcc0"/><stop offset="0.405" stop-color="#06bcc1"/><stop offset="0.429" stop-color="#05bbc1"/><stop offset="0.452" stop-color="#02bac4"/><stop offset="0.476" stop-color="#01b8ca"/><stop offset="0.500" stop-color="#0ab4d1"/><stop offset="0.524" stop-color="#14b0d8"/><stop offset="0.548" stop-color="#1aacdd"/><stop offset="0.571" stop-color="#1ca9df"/><stop offset="0.595" stop-color="#1ea8e1"/><stop offset="0.619" stop-color="#21a3e3"/><stop offset="0.643" stop-color="#239fe5"/><stop offset="0.667" stop-color="#249ee6"/><stop offset="0.690" stop-color="#259ce7"/><stop offset="0.714" stop-color="#259be8"/><stop offset="0.738" stop-color="#269ae9"/><stop offset="0.762" stop-color="#2698ea"/><stop offset="0.786" stop-color="#2798ea"/><stop offset="0.810" stop-color="#2797eb"/><stop offset="0.833" stop-color="#2797eb"/><stop offset="0.857" stop-color="#2896ec"/><stop offset="0.881" stop-color="#2995ec"/><stop offset="0.905" stop-color="#2994ed"/><stop offset="0.929" stop-color="#2994ed"/><stop offset="0.952" stop-color="#2994ed"/><stop offset="0.976" stop-color="#2a93ee"/><stop offset="1.000" stop-color="#2a92ee"/></linearGradient>
<linearGradient id="g45" gradientUnits="userSpaceOnUse" x1="1506.4" y1="0" x2="2004.1" y2="0"><stop offset="0.000" stop-color="#2c8ef1"/><stop offset="0.024" stop-color="#2c8ef1"/><stop offset="0.048" stop-color="#2c8ef1"/><stop offset="0.071" stop-color="#2c8ff1"/><stop offset="0.095" stop-color="#2c8ff0"/><stop offset="0.119" stop-color="#2c90f0"/><stop offset="0.143" stop-color="#2b91ef"/><stop offset="0.167" stop-color="#2994ed"/><stop offset="0.190" stop-color="#269ae8"/><stop offset="0.214" stop-color="#22a2e4"/><stop offset="0.238" stop-color="#1da9e0"/><stop offset="0.262" stop-color="#14b0d8"/><stop offset="0.286" stop-color="#05b6ce"/><stop offset="0.310" stop-color="#01b9c7"/><stop offset="0.333" stop-color="#02bac4"/><stop offset="0.357" stop-color="#02bac3"/><stop offset="0.381" stop-color="#02bac4"/><stop offset="0.405" stop-color="#02bac4"/><stop offset="0.429" stop-color="#02bac4"/><stop offset="0.452" stop-color="#01b8c8"/><stop offset="0.476" stop-color="#07b5d0"/><stop offset="0.500" stop-color="#14b0d8"/><stop offset="0.524" stop-color="#1babde"/><stop offset="0.548" stop-color="#1ea7e1"/><stop offset="0.571" stop-color="#20a4e3"/><stop offset="0.595" stop-color="#23a1e5"/><stop offset="0.619" stop-color="#259ce7"/><stop offset="0.643" stop-color="#2699e9"/><stop offset="0.667" stop-color="#2797eb"/><stop offset="0.690" stop-color="#2895ec"/><stop offset="0.714" stop-color="#2994ed"/><stop offset="0.738" stop-color="#2a93ed"/><stop offset="0.762" stop-color="#2a92ee"/><stop offset="0.786" stop-color="#2b92ee"/><stop offset="0.810" stop-color="#2b91ef"/><stop offset="0.833" stop-color="#2b91ef"/><stop offset="0.857" stop-color="#2b90f0"/><stop offset="0.881" stop-color="#2c90f0"/><stop offset="0.905" stop-color="#2c8ff0"/><stop offset="0.929" stop-color="#2c8ff0"/><stop offset="0.952" stop-color="#2c8ff1"/><stop offset="0.976" stop-color="#2c8ff1"/><stop offset="1.000" stop-color="#2c8ff1"/></linearGradient>
<linearGradient id="g46" gradientUnits="userSpaceOnUse" x1="1515.2" y1="0" x2="2007.0" y2="0"><stop offset="0.000" stop-color="#2c8ef1"/><stop offset="0.024" stop-color="#2c8ef1"/><stop offset="0.049" stop-color="#2c8ef1"/><stop offset="0.073" stop-color="#2c8ff1"/><stop offset="0.098" stop-color="#2c8ff1"/><stop offset="0.122" stop-color="#2c90f0"/><stop offset="0.146" stop-color="#2b91ef"/><stop offset="0.171" stop-color="#2895ec"/><stop offset="0.195" stop-color="#259ce7"/><stop offset="0.220" stop-color="#20a4e3"/><stop offset="0.244" stop-color="#1aacdd"/><stop offset="0.268" stop-color="#0db3d4"/><stop offset="0.293" stop-color="#03b7cc"/><stop offset="0.317" stop-color="#01b8c8"/><stop offset="0.341" stop-color="#01b9c7"/><stop offset="0.366" stop-color="#01b9c7"/><stop offset="0.390" stop-color="#01b9c6"/><stop offset="0.415" stop-color="#01b9c7"/><stop offset="0.439" stop-color="#01b7ca"/><stop offset="0.463" stop-color="#0ab4d2"/><stop offset="0.488" stop-color="#17aeda"/><stop offset="0.512" stop-color="#1ea8e0"/><stop offset="0.537" stop-color="#22a2e4"/><stop offset="0.561" stop-color="#249ee6"/><stop offset="0.585" stop-color="#269ae9"/><stop offset="0.610" stop-color="#2895ec"/><stop offset="0.634" stop-color="#2a92ee"/><stop offset="0.659" stop-color="#2b90ef"/><stop offset="0.683" stop-color="#2c8ff0"/><stop offset="0.707" stop-color="#2c8ef1"/><stop offset="0.732" stop-color="#2c8ef2"/><stop offset="0.756" stop-color="#2d8df2"/><stop offset="0.780" stop-color="#2d8df2"/><stop offset="0.805" stop-color="#2d8df2"/><stop offset="0.829" stop-color="#2d8cf3"/><stop offset="0.854" stop-color="#2d8cf3"/><stop offset="0.878" stop-color="#2d8cf3"/><stop offset="0.902" stop-color="#2d8cf3"/><stop offset="0.927" stop-color="#2d8cf3"/><stop offset="0.951" stop-color="#2d8cf3"/><stop offset="0.976" stop-color="#2d8cf3"/><stop offset="1.000" stop-color="#2d8cf3"/></linearGradient>
<linearGradient id="g47" gradientUnits="userSpaceOnUse" x1="1524.0" y1="0" x2="2009.9" y2="0"><stop offset="0.000" stop-color="#2c8ef1"/><stop offset="0.024" stop-color="#2c8ef1"/><stop offset="0.049" stop-color="#2c8ef1"/><stop offset="0.073" stop-color="#2c8ff1"/><stop offset="0.098" stop-color="#2c8ff1"/><stop offset="0.122" stop-color="#2c90f0"/><stop offset="0.146" stop-color="#2b91ef"/><stop offset="0.171" stop-color="#2896ec"/><stop offset="0.195" stop-color="#249de7"/><stop offset="0.220" stop-color="#1fa5e2"/><stop offset="0.244" stop-color="#18addb"/><stop offset="0.268" stop-color="#0cb3d3"/><stop offset="0.293" stop-color="#05b6cd"/><stop offset="0.317" stop-color="#02b7cb"/><stop offset="0.341" stop-color="#01b8ca"/><stop offset="0.366" stop-color="#01b8c9"/><stop offset="0.390" stop-color="#01b8c8"/><stop offset="0.415" stop-color="#01b8ca"/><stop offset="0.439" stop-color="#07b5d0"/><stop offset="0.463" stop-color="#15afd9"/><stop offset="0.488" stop-color="#1da8e0"/><stop offset="0.512" stop-color="#22a1e4"/><stop offset="0.537" stop-color="#259be8"/><stop offset="0.561" stop-color="#2896ec"/><stop offset="0.585" stop-color="#2b91ef"/><stop offset="0.610" stop-color="#2c8ef2"/><stop offset="0.634" stop-color="#2d8cf3"/><stop offset="0.659" stop-color="#2d8af4"/><stop offset="0.683" stop-color="#2d8af5"/><stop offset="0.707" stop-color="#2d89f5"/><stop offset="0.732" stop-color="#2d89f5"/><stop offset="0.756" stop-color="#2d89f6"/><stop offset="0.780" stop-color="#2d88f6"/><stop offset="0.805" stop-color="#2d88f6"/><stop offset="0.829" stop-color="#2d88f6"/><stop offset="0.854" stop-color="#2d88f6"/><stop offset="0.878" stop-color="#2d88f6"/><stop offset="0.902" stop-color="#2d88f6"/><stop offset="0.927" stop-color="#2d89f5"/><stop offset="0.951" stop-color="#2d89f5"/><stop offset="0.976" stop-color="#2d89f5"/><stop offset="1.000" stop-color="#2d89f5"/></linearGradient>
<linearGradient id="g48" gradientUnits="userSpaceOnUse" x1="1532.8" y1="0" x2="2012.9" y2="0"><stop offset="0.000" stop-color="#2c8ef1"/><stop offset="0.024" stop-color="#2c8ef1"/><stop offset="0.049" stop-color="#2c8ef1"/><stop offset="0.073" stop-color="#2c8ef1"/><stop offset="0.098" stop-color="#2c8ff1"/><stop offset="0.122" stop-color="#2c8ff0"/><stop offset="0.146" stop-color="#2b91ef"/><stop offset="0.171" stop-color="#2796eb"/><stop offset="0.195" stop-color="#249ee6"/><stop offset="0.220" stop-color="#1ea7e1"/><stop offset="0.244" stop-color="#16afd9"/><stop offset="0.268" stop-color="#0db3d3"/><stop offset="0.293" stop-color="#07b5cf"/><stop offset="0.317" stop-color="#05b6cd"/><stop offset="0.341" stop-color="#03b7cc"/><stop offset="0.366" stop-color="#02b7cb"/><stop offset="0.390" stop-color="#01b7ca"/><stop offset="0.415" stop-color="#06b6ce"/><stop offset="0.439" stop-color="#12b1d6"/><stop offset="0.463" stop-color="#1caadf"/><stop offset="0.488" stop-color="#22a1e4"/><stop offset="0.512" stop-color="#2699e9"/><stop offset="0.537" stop-color="#2b92ee"/><stop offset="0.561" stop-color="#2d8df2"/><stop offset="0.585" stop-color="#2d89f5"/><stop offset="0.610" stop-color="#2d88f6"/><stop offset="0.634" stop-color="#2e86f7"/><stop offset="0.659" stop-color="#2e85f8"/><stop offset="0.683" stop-color="#2e85f8"/><stop offset="0.707" stop-color="#2e84f8"/><stop offset="0.732" stop-color="#2e84f8"/><stop offset="0.756" stop-color="#2e84f8"/><stop offset="0.780" stop-color="#2e84f8"/><stop offset="0.805" stop-color="#2e85f8"/><stop offset="0.829" stop-color="#2e85f8"/><stop offset="0.854" stop-color="#2e85f8"/><stop offset="0.878" stop-color="#2e85f8"/><stop offset="0.902" stop-color="#2e85f8"/><stop offset="0.927" stop-color="#2e86f7"/><stop offset="0.951" stop-color="#2e86f7"/><stop offset="0.976" stop-color="#2e87f7"/><stop offset="1.000" stop-color="#2e87f7"/></linearGradient>
<linearGradient id="g49" gradientUnits="userSpaceOnUse" x1="1541.6" y1="0" x2="2015.8" y2="0"><stop offset="0.000" stop-color="#2c8ef1"/><stop offset="0.025" stop-color="#2c8ef1"/><stop offset="0.050" stop-color="#2c8ef1"/><stop offset="0.075" stop-color="#2c8ef1"/><stop offset="0.100" stop-color="#2c8ff1"/><stop offset="0.125" stop-color="#2c90f0"/><stop offset="0.150" stop-color="#2a92ee"/><stop offset="0.175" stop-color="#2798ea"/><stop offset="0.200" stop-color="#22a2e4"/><stop offset="0.225" stop-color="#1babde"/><stop offset="0.250" stop-color="#14b0d8"/><stop offset="0.275" stop-color="#0db3d3"/><stop offset="0.300" stop-color="#08b4d1"/><stop offset="0.325" stop-color="#06b5cf"/><stop offset="0.350" stop-color="#04b6cd"/><stop offset="0.375" stop-color="#03b7cc"/><stop offset="0.400" stop-color="#07b5d0"/><stop offset="0.425" stop-color="#14b0d8"/><stop offset="0.450" stop-color="#1ea7e1"/><stop offset="0.475" stop-color="#249de6"/><stop offset="0.500" stop-color="#2a93ed"/><stop offset="0.525" stop-color="#2d8cf3"/><stop offset="0.550" stop-color="#2d87f6"/><stop offset="0.575" stop-color="#2e84f8"/><stop offset="0.600" stop-color="#2f83f9"/><stop offset="0.625" stop-color="#2f81fa"/><stop offset="0.650" stop-color="#2f80fa"/><stop offset="0.675" stop-color="#3080fa"/><stop offset="0.700" stop-color="#3080fa"/><stop offset="0.725" stop-color="#2f80fa"/><stop offset="0.750" stop-color="#2f80fa"/><stop offset="0.775" stop-color="#2f81fa"/><stop offset="0.800" stop-color="#2f81fa"/><stop offset="0.825" stop-color="#2f81fa"/><stop offset="0.850" stop-color="#2f82fa"/><stop offset="0.875" stop-color="#2f82fa"/><stop offset="0.900" stop-color="#2e83f9"/><stop offset="0.925" stop-color="#2e83f9"/><stop offset="0.950" stop-color="#2e84f8"/><stop offset="0.975" stop-color="#2e85f8"/><stop offset="1.000" stop-color="#2e85f8"/></linearGradient>
<linearGradient id="g50" gradientUnits="userSpaceOnUse" x1="1550.4" y1="0" x2="2018.7" y2="0"><stop offset="0.000" stop-color="#2c8ef1"/><stop offset="0.025" stop-color="#2c8ef1"/><stop offset="0.050" stop-color="#2c8ef1"/><stop offset="0.075" stop-color="#2c8ef1"/><stop offset="0.100" stop-color="#2c8ff1"/><stop offset="0.125" stop-color="#2c90f0"/><stop offset="0.150" stop-color="#2a93ee"/><stop offset="0.175" stop-color="#269ae9"/><stop offset="0.200" stop-color="#20a4e3"/><stop offset="0.225" stop-color="#1aabdd"/><stop offset="0.250" stop-color="#15afd9"/><stop offset="0.275" stop-color="#10b2d5"/><stop offset="0.300" stop-color="#0bb4d2"/><stop offset="0.325" stop-color="#07b5cf"/><stop offset="0.350" stop-color="#05b6cd"/><stop offset="0.375" stop-color="#06b5cf"/><stop offset="0.400" stop-color="#11b1d6"/><stop offset="0.425" stop-color="#1caadf"/><stop offset="0.450" stop-color="#249ee6"/><stop offset="0.475" stop-color="#2a93ee"/><stop offset="0.500" stop-color="#2d8af5"/><stop offset="0.525" stop-color="#2e84f8"/><stop offset="0.550" stop-color="#2f81fa"/><stop offset="0.575" stop-color="#307ffb"/><stop offset="0.600" stop-color="#317dfc"/><stop offset="0.625" stop-color="#327cfc"/><stop offset="0.650" stop-color="#327cfc"/><stop offset="0.675" stop-color="#327bfc"/><stop offset="0.700" stop-color="#327cfc"/><stop offset="0.725" stop-color="#327cfc"/><stop offset="0.750" stop-color="#327cfc"/><stop offset="0.775" stop-color="#317dfc"/><stop offset="0.800" stop-color="#317dfc"/><stop offset="0.825" stop-color="#317efb"/><stop offset="0.850" stop-color="#317efb"/><stop offset="0.875" stop-color="#307ffb"/><stop offset="0.900" stop-color="#3080fa"/><stop offset="0.925" stop-color="#2f81fa"/><stop offset="0.950" stop-color="#2f82fa"/><stop offset="0.975" stop-color="#2f82f9"/><stop offset="1.000" stop-color="#2f82f9"/></linearGradient>
<linearGradient id="g51" gradientUnits="userSpaceOnUse" x1="1559.1" y1="0" x2="2021.6" y2="0"><stop offset="0.000" stop-color="#2c8ef1"/><stop offset="0.026" stop-color="#2c8ef1"/><stop offset="0.051" stop-color="#2c8ef1"/><stop offset="0.077" stop-color="#2c8ef1"/><stop offset="0.103" stop-color="#2c8ff1"/><stop offset="0.128" stop-color="#2b90f0"/><stop offset="0.154" stop-color="#2995ec"/><stop offset="0.179" stop-color="#249ee6"/><stop offset="0.205" stop-color="#1ea7e1"/><stop offset="0.231" stop-color="#1aacdd"/><stop offset="0.256" stop-color="#15afd8"/><stop offset="0.282" stop-color="#0fb2d5"/><stop offset="0.308" stop-color="#0ab4d1"/><stop offset="0.333" stop-color="#06b5cf"/><stop offset="0.359" stop-color="#08b4d0"/><stop offset="0.385" stop-color="#13b1d7"/><stop offset="0.410" stop-color="#1ea8e1"/><stop offset="0.436" stop-color="#269ae8"/><stop offset="0.462" stop-color="#2d8df2"/><stop offset="0.487" stop-color="#2e84f8"/><stop offset="0.513" stop-color="#307ffb"/><stop offset="0.538" stop-color="#327cfc"/><stop offset="0.564" stop-color="#3479fd"/><stop offset="0.590" stop-color="#3678fd"/><stop offset="0.615" stop-color="#3777fe"/><stop offset="0.641" stop-color="#3777fe"/><stop offset="0.667" stop-color="#3777fe"/><stop offset="0.692" stop-color="#3677fe"/><stop offset="0.718" stop-color="#3678fe"/><stop offset="0.744" stop-color="#3578fd"/><stop offset="0.769" stop-color="#3579fd"/><stop offset="0.795" stop-color="#347afd"/><stop offset="0.821" stop-color="#337afd"/><stop offset="0.846" stop-color="#337bfc"/><stop offset="0.872" stop-color="#327cfc"/><stop offset="0.897" stop-color="#317dfc"/><stop offset="0.923" stop-color="#307efb"/><stop offset="0.949" stop-color="#3080fb"/><stop offset="0.974" stop-color="#3080fa"/><stop offset="1.000" stop-color="#3080fa"/></linearGradient>
<linearGradient id="g52" gradientUnits="userSpaceOnUse" x1="1567.9" y1="0" x2="2024.5" y2="0"><stop offset="0.000" stop-color="#2c8ef1"/><stop offset="0.026" stop-color="#2c8ef1"/><stop offset="0.051" stop-color="#2c8ef1"/><stop offset="0.077" stop-color="#2c8ef1"/><stop offset="0.103" stop-color="#2c8ff1"/><stop offset="0.128" stop-color="#2b91ef"/><stop offset="0.154" stop-color="#2796eb"/><stop offset="0.179" stop-color="#23a0e5"/><stop offset="0.205" stop-color="#1ea7e1"/><stop offset="0.231" stop-color="#1aacdd"/><stop offset="0.256" stop-color="#15afd9"/><stop offset="0.282" stop-color="#10b2d5"/><stop offset="0.308" stop-color="#0ab4d2"/><stop offset="0.333" stop-color="#09b4d1"/><stop offset="0.359" stop-color="#10b2d5"/><stop offset="0.385" stop-color="#1baade"/><stop offset="0.410" stop-color="#259ce7"/><stop offset="0.436" stop-color="#2d8df2"/><stop offset="0.462" stop-color="#2e83f9"/><stop offset="0.487" stop-color="#327cfc"/><stop offset="0.513" stop-color="#3678fd"/><stop offset="0.538" stop-color="#3875fe"/><stop offset="0.564" stop-color="#3a74fe"/><stop offset="0.590" stop-color="#3b72ff"/><stop offset="0.615" stop-color="#3c72ff"/><stop offset="0.641" stop-color="#3c72ff"/><stop offset="0.667" stop-color="#3b72ff"/><stop offset="0.692" stop-color="#3b73fe"/><stop offset="0.718" stop-color="#3a74fe"/><stop offset="0.744" stop-color="#3974fe"/><stop offset="0.769" stop-color="#3875fe"/><stop offset="0.795" stop-color="#3876fe"/><stop offset="0.821" stop-color="#3777fe"/><stop offset="0.846" stop-color="#3678fd"/><stop offset="0.872" stop-color="#3479fd"/><stop offset="0.897" stop-color="#337bfd"/><stop offset="0.923" stop-color="#327cfc"/><stop offset="0.949" stop-color="#317dfc"/><stop offset="0.974" stop-color="#317efb"/><stop offset="1.000" stop-color="#317efb"/></linearGradient>
<linearGradient id="g53" gradientUnits="userSpaceOnUse" x1="1576.7" y1="0" x2="2015.5" y2="0"><stop offset="0.000" stop-color="#2c8ef1"/><stop offset="0.027" stop-color="#2c8ef1"/><stop offset="0.054" stop-color="#2c8ef1"/><stop offset="0.081" stop-color="#2c8ef1"/><stop offset="0.108" stop-color="#2c8ff0"/><stop offset="0.135" stop-color="#2b92ee"/><stop offset="0.162" stop-color="#2699e9"/><stop offset="0.189" stop-color="#22a2e4"/><stop offset="0.216" stop-color="#1da8e0"/><stop offset="0.243" stop-color="#19addc"/><stop offset="0.270" stop-color="#13b0d8"/><stop offset="0.297" stop-color="#0db3d4"/><stop offset="0.324" stop-color="#0cb3d3"/><stop offset="0.351" stop-color="#12b1d7"/><stop offset="0.378" stop-color="#1da9e0"/><stop offset="0.405" stop-color="#2699ea"/><stop offset="0.432" stop-color="#2d88f6"/><stop offset="0.459" stop-color="#317efb"/><stop offset="0.486" stop-color="#3777fe"/><stop offset="0.514" stop-color="#3b73fe"/><stop offset="0.541" stop-color="#3d70ff"/><stop offset="0.568" stop-color="#3f6eff"/><stop offset="0.595" stop-color="#3f6dfe"/><stop offset="0.622" stop-color="#406dfe"/><stop offset="0.649" stop-color="#406dfe"/><stop offset="0.676" stop-color="#3f6efe"/><stop offset="0.703" stop-color="#3f6fff"/><stop offset="0.730" stop-color="#3e6fff"/><stop offset="0.757" stop-color="#3d70ff"/><stop offset="0.784" stop-color="#3c71ff"/><stop offset="0.811" stop-color="#3b72fe"/><stop offset="0.838" stop-color="#3a74fe"/><stop offset="0.865" stop-color="#3975fe"/><stop offset="0.892" stop-color="#3776fe"/><stop offset="0.919" stop-color="#3678fd"/><stop offset="0.946" stop-color="#347afd"/><stop offset="0.973" stop-color="#337bfc"/><stop offset="1.000" stop-color="#327bfc"/></linearGradient>
<linearGradient id="g54" gradientUnits="userSpaceOnUse" x1="1585.5" y1="0" x2="2004.0" y2="0"><stop offset="0.000" stop-color="#2c8ef1"/><stop offset="0.029" stop-color="#2c8ef1"/><stop offset="0.057" stop-color="#2c8ef1"/><stop offset="0.086" stop-color="#2c8ff1"/><stop offset="0.114" stop-color="#2c90f0"/><stop offset="0.143" stop-color="#2994ed"/><stop offset="0.171" stop-color="#259ce7"/><stop offset="0.200" stop-color="#21a4e3"/><stop offset="0.229" stop-color="#1ca9df"/><stop offset="0.257" stop-color="#18aedb"/><stop offset="0.286" stop-color="#12b1d6"/><stop offset="0.314" stop-color="#0fb2d4"/><stop offset="0.343" stop-color="#13b0d8"/><stop offset="0.371" stop-color="#1da8e0"/><stop offset="0.400" stop-color="#2796eb"/><stop offset="0.429" stop-color="#2e84f8"/><stop offset="0.457" stop-color="#347afd"/><stop offset="0.486" stop-color="#3b72fe"/><stop offset="0.514" stop-color="#3f6eff"/><stop offset="0.543" stop-color="#416bfe"/><stop offset="0.571" stop-color="#426afe"/><stop offset="0.600" stop-color="#4369fe"/><stop offset="0.629" stop-color="#4368fe"/><stop offset="0.657" stop-color="#4368fe"/><stop offset="0.686" stop-color="#4269fe"/><stop offset="0.714" stop-color="#426afe"/><stop offset="0.743" stop-color="#416bfe"/><stop offset="0.771" stop-color="#406cfe"/><stop offset="0.800" stop-color="#3f6efe"/><stop offset="0.829" stop-color="#3e6fff"/><stop offset="0.857" stop-color="#3d70ff"/><stop offset="0.886" stop-color="#3c71ff"/><stop offset="0.914" stop-color="#3a73fe"/><stop offset="0.943" stop-color="#3875fe"/><stop offset="0.971" stop-color="#3777fe"/><stop offset="1.000" stop-color="#3578fd"/></linearGradient>
<linearGradient id="g55" gradientUnits="userSpaceOnUse" x1="1594.3" y1="0" x2="1992.5" y2="0"><stop offset="0.000" stop-color="#2c8ef1"/><stop offset="0.029" stop-color="#2c8ef1"/><stop offset="0.059" stop-color="#2c8ef1"/><stop offset="0.088" stop-color="#2c8ff1"/><stop offset="0.118" stop-color="#2b90f0"/><stop offset="0.147" stop-color="#2895ec"/><stop offset="0.176" stop-color="#249de6"/><stop offset="0.206" stop-color="#20a4e3"/><stop offset="0.235" stop-color="#1caadf"/><stop offset="0.265" stop-color="#17aeda"/><stop offset="0.294" stop-color="#13b1d7"/><stop offset="0.324" stop-color="#13b0d7"/><stop offset="0.353" stop-color="#1aabdd"/><stop offset="0.382" stop-color="#259de7"/><stop offset="0.412" stop-color="#2d88f6"/><stop offset="0.441" stop-color="#347afd"/><stop offset="0.471" stop-color="#3d71ff"/><stop offset="0.500" stop-color="#416bfe"/><stop offset="0.529" stop-color="#4368fe"/><stop offset="0.559" stop-color="#4466fd"/><stop offset="0.588" stop-color="#4464fd"/><stop offset="0.618" stop-color="#4564fd"/><stop offset="0.647" stop-color="#4564fd"/><stop offset="0.676" stop-color="#4464fd"/><stop offset="0.706" stop-color="#4465fd"/><stop offset="0.735" stop-color="#4466fd"/><stop offset="0.765" stop-color="#4368fd"/><stop offset="0.794" stop-color="#4369fe"/><stop offset="0.824" stop-color="#426afe"/><stop offset="0.853" stop-color="#416bfe"/><stop offset="0.882" stop-color="#406dfe"/><stop offset="0.912" stop-color="#3f6eff"/><stop offset="0.941" stop-color="#3d70ff"/><stop offset="0.971" stop-color="#3b72fe"/><stop offset="1.000" stop-color="#3974fe"/></linearGradient>
<linearGradient id="g56" gradientUnits="userSpaceOnUse" x1="1603.1" y1="0" x2="1981.1" y2="0"><stop offset="0.000" stop-color="#2c8ef1"/><stop offset="0.031" stop-color="#2c8ef1"/><stop offset="0.062" stop-color="#2c8ef1"/><stop offset="0.094" stop-color="#2c8ff1"/><stop offset="0.125" stop-color="#2b91ef"/><stop offset="0.156" stop-color="#2797ea"/><stop offset="0.188" stop-color="#249fe5"/><stop offset="0.219" stop-color="#1fa6e2"/><stop offset="0.250" stop-color="#1aabdd"/><stop offset="0.281" stop-color="#16afd9"/><stop offset="0.312" stop-color="#15afd9"/><stop offset="0.344" stop-color="#1babde"/><stop offset="0.375" stop-color="#259ce7"/><stop offset="0.406" stop-color="#2e85f8"/><stop offset="0.438" stop-color="#3876fe"/><stop offset="0.469" stop-color="#406cfe"/><stop offset="0.500" stop-color="#4367fd"/><stop offset="0.531" stop-color="#4563fd"/><stop offset="0.562" stop-color="#4561fc"/><stop offset="0.594" stop-color="#4660fb"/><stop offset="0.625" stop-color="#465ffb"/><stop offset="0.656" stop-color="#465ffb"/><stop offset="0.688" stop-color="#4660fb"/><stop offset="0.719" stop-color="#4561fc"/><stop offset="0.750" stop-color="#4562fc"/><stop offset="0.781" stop-color="#4564fd"/><stop offset="0.812" stop-color="#4465fd"/><stop offset="0.844" stop-color="#4466fd"/><stop offset="0.875" stop-color="#4368fe"/><stop offset="0.906" stop-color="#4269fe"/><stop offset="0.938" stop-color="#416bfe"/><stop offset="0.969" stop-color="#3f6dfe"/><stop offset="1.000" stop-color="#3e6fff"/></linearGradient>
<linearGradient id="g57" gradientUnits="userSpaceOnUse" x1="1611.8" y1="0" x2="1969.6" y2="0"><stop offset="0.000" stop-color="#2c8ef1"/><stop offset="0.033" stop-color="#2c8ef1"/><stop offset="0.067" stop-color="#2c8ef1"/><stop offset="0.100" stop-color="#2c8ff0"/><stop offset="0.133" stop-color="#2a93ee"/><stop offset="0.167" stop-color="#269ae9"/><stop offset="0.200" stop-color="#22a1e4"/><stop offset="0.233" stop-color="#1da8e0"/><stop offset="0.267" stop-color="#19acdc"/><stop offset="0.300" stop-color="#18addb"/><stop offset="0.333" stop-color="#1caadf"/><stop offset="0.367" stop-color="#259be7"/><stop offset="0.400" stop-color="#2e83f9"/><stop offset="0.433" stop-color="#3c72ff"/><stop offset="0.467" stop-color="#4368fe"/><stop offset="0.500" stop-color="#4562fc"/><stop offset="0.533" stop-color="#465ffb"/><stop offset="0.567" stop-color="#475dfa"/><stop offset="0.600" stop-color="#475bfa"/><stop offset="0.633" stop-color="#475bf9"/><stop offset="0.667" stop-color="#475bf9"/><stop offset="0.700" stop-color="#475bfa"/><stop offset="0.733" stop-color="#475dfa"/><stop offset="0.767" stop-color="#465efb"/><stop offset="0.800" stop-color="#4660fb"/><stop offset="0.833" stop-color="#4561fc"/><stop offset="0.867" stop-color="#4563fc"/><stop offset="0.900" stop-color="#4464fd"/><stop offset="0.933" stop-color="#4466fd"/><stop offset="0.967" stop-color="#4368fe"/><stop offset="1.000" stop-color="#426afe"/></linearGradient>
<linearGradient id="g58" gradientUnits="userSpaceOnUse" x1="1620.6" y1="0" x2="1958.2" y2="0"><stop offset="0.000" stop-color="#2c8ef1"/><stop offset="0.034" stop-color="#2c8ef1"/><stop offset="0.069" stop-color="#2c8ff1"/><stop offset="0.103" stop-color="#2c90f0"/><stop offset="0.138" stop-color="#2994ed"/><stop offset="0.172" stop-color="#269be8"/><stop offset="0.207" stop-color="#22a2e4"/><stop offset="0.241" stop-color="#1da8e0"/><stop offset="0.276" stop-color="#1babde"/><stop offset="0.310" stop-color="#1baade"/><stop offset="0.345" stop-color="#22a2e4"/><stop offset="0.379" stop-color="#2d8cf3"/><stop offset="0.414" stop-color="#3975fe"/><stop offset="0.448" stop-color="#4368fe"/><stop offset="0.483" stop-color="#4661fc"/><stop offset="0.517" stop-color="#475cfa"/><stop offset="0.552" stop-color="#4759f8"/><stop offset="0.586" stop-color="#4758f8"/><stop offset="0.621" stop-color="#4757f7"/><stop offset="0.655" stop-color="#4756f7"/><stop offset="0.690" stop-color="#4756f7"/><stop offset="0.724" stop-color="#4758f8"/><stop offset="0.759" stop-color="#4759f8"/><stop offset="0.793" stop-color="#475af9"/><stop offset="0.828" stop-color="#475cfa"/><stop offset="0.862" stop-color="#465efb"/><stop offset="0.897" stop-color="#465ffb"/><stop offset="0.931" stop-color="#4561fc"/><stop offset="0.966" stop-color="#4563fc"/><stop offset="1.000" stop-color="#4465fd"/></linearGradient>
<linearGradient id="g59" gradientUnits="userSpaceOnUse" x1="1629.4" y1="0" x2="1946.7" y2="0"><stop offset="0.000" stop-color="#2c8ef1"/><stop offset="0.037" stop-color="#2c8ef1"/><stop offset="0.074" stop-color="#2c8ff1"/><stop offset="0.111" stop-color="#2b91ef"/><stop offset="0.148" stop-color="#2895ec"/><stop offset="0.185" stop-color="#259de7"/><stop offset="0.222" stop-color="#20a4e3"/><stop offset="0.259" stop-color="#1da8e0"/><stop offset="0.296" stop-color="#1da8e0"/><stop offset="0.333" stop-color="#23a1e4"/><stop offset="0.370" stop-color="#2d8cf3"/><stop offset="0.407" stop-color="#3b72fe"/><stop offset="0.444" stop-color="#4464fd"/><stop offset="0.481" stop-color="#475cfa"/><stop offset="0.519" stop-color="#4758f8"/><stop offset="0.556" stop-color="#4755f6"/><stop offset="0.593" stop-color="#4853f5"/><stop offset="0.630" stop-color="#4852f4"/><stop offset="0.667" stop-color="#4852f4"/><stop offset="0.704" stop-color="#4852f4"/><stop offset="0.741" stop-color="#4853f5"/><stop offset="0.778" stop-color="#4755f6"/><stop offset="0.815" stop-color="#4756f7"/><stop offset="0.852" stop-color="#4758f8"/><stop offset="0.889" stop-color="#475af9"/><stop offset="0.926" stop-color="#475cfa"/><stop offset="0.963" stop-color="#465efb"/><stop offset="1.000" stop-color="#4660fb"/></linearGradient>
<linearGradient id="g60" gradientUnits="userSpaceOnUse" x1="1638.2" y1="0" x2="1935.2" y2="0"><stop offset="0.000" stop-color="#2c8ef1"/><stop offset="0.040" stop-color="#2c8ef1"/><stop offset="0.080" stop-color="#2c8ff0"/><stop offset="0.120" stop-color="#2b92ef"/><stop offset="0.160" stop-color="#2797eb"/><stop offset="0.200" stop-color="#249ee6"/><stop offset="0.240" stop-color="#20a4e3"/><stop offset="0.280" stop-color="#1fa5e2"/><stop offset="0.320" stop-color="#23a0e5"/><stop offset="0.360" stop-color="#2d8cf3"/><stop offset="0.400" stop-color="#3d70ff"/><stop offset="0.440" stop-color="#4661fc"/><stop offset="0.480" stop-color="#4758f8"/><stop offset="0.520" stop-color="#4854f5"/><stop offset="0.560" stop-color="#4850f3"/><stop offset="0.600" stop-color="#484ff2"/><stop offset="0.640" stop-color="#484ef1"/><stop offset="0.680" stop-color="#484df1"/><stop offset="0.720" stop-color="#484ef1"/><stop offset="0.760" stop-color="#484ff2"/><stop offset="0.800" stop-color="#4851f3"/><stop offset="0.840" stop-color="#4853f4"/><stop offset="0.880" stop-color="#4854f6"/><stop offset="0.920" stop-color="#4756f7"/><stop offset="0.960" stop-color="#4758f8"/><stop offset="1.000" stop-color="#475af9"/></linearGradient>
<linearGradient id="g61" gradientUnits="userSpaceOnUse" x1="1647.0" y1="0" x2="1923.8" y2="0"><stop offset="0.000" stop-color="#2c8ef1"/><stop offset="0.042" stop-color="#2c8ef1"/><stop offset="0.083" stop-color="#2c8ff0"/><stop offset="0.125" stop-color="#2b92ee"/><stop offset="0.167" stop-color="#2797eb"/><stop offset="0.208" stop-color="#249ee6"/><stop offset="0.250" stop-color="#22a1e4"/><stop offset="0.292" stop-color="#23a0e5"/><stop offset="0.333" stop-color="#2994ed"/><stop offset="0.375" stop-color="#347afd"/><stop offset="0.417" stop-color="#4563fc"/><stop offset="0.458" stop-color="#4758f8"/><stop offset="0.500" stop-color="#4851f4"/><stop offset="0.542" stop-color="#484ef1"/><stop offset="0.583" stop-color="#484bef"/><stop offset="0.625" stop-color="#484aee"/><stop offset="0.667" stop-color="#4849ed"/><stop offset="0.708" stop-color="#4849ed"/><stop offset="0.750" stop-color="#4849ed"/><stop offset="0.792" stop-color="#484bef"/><stop offset="0.833" stop-color="#484df0"/><stop offset="0.875" stop-color="#484ff2"/><stop offset="0.917" stop-color="#4851f3"/><stop offset="0.958" stop-color="#4853f5"/><stop offset="1.000" stop-color="#4755f6"/></linearGradient>
<linearGradient id="g62" gradientUnits="userSpaceOnUse" x1="1655.8" y1="0" x2="1912.3" y2="0"><stop offset="0.000" stop-color="#2c8ef1"/><stop offset="0.045" stop-color="#2c8ff1"/><stop offset="0.091" stop-color="#2c90f0"/><stop offset="0.136" stop-color="#2a93ee"/><stop offset="0.182" stop-color="#2798ea"/><stop offset="0.227" stop-color="#259de7"/><stop offset="0.273" stop-color="#259de7"/><stop offset="0.318" stop-color="#2a93ee"/><stop offset="0.364" stop-color="#347afd"/><stop offset="0.409" stop-color="#4660fc"/><stop offset="0.455" stop-color="#4854f5"/><stop offset="0.500" stop-color="#484df0"/><stop offset="0.545" stop-color="#4849ed"/><stop offset="0.591" stop-color="#4747eb"/><stop offset="0.636" stop-color="#4745e9"/><stop offset="0.682" stop-color="#4745e9"/><stop offset="0.727" stop-color="#4744e8"/><stop offset="0.773" stop-color="#4745e9"/><stop offset="0.818" stop-color="#4747eb"/><stop offset="0.864" stop-color="#4849ed"/><stop offset="0.909" stop-color="#484bef"/><stop offset="0.955" stop-color="#484df0"/><stop offset="1.000" stop-color="#484ff2"/></linearGradient>
<linearGradient id="g63" gradientUnits="userSpaceOnUse" x1="1664.6" y1="0" x2="1900.9" y2="0"><stop offset="0.000" stop-color="#2c8ef1"/><stop offset="0.050" stop-color="#2c8ff1"/><stop offset="0.100" stop-color="#2b90f0"/><stop offset="0.150" stop-color="#2a93ed"/><stop offset="0.200" stop-color="#2797eb"/><stop offset="0.250" stop-color="#2699ea"/><stop offset="0.300" stop-color="#2b91ef"/><stop offset="0.350" stop-color="#337afd"/><stop offset="0.400" stop-color="#465efb"/><stop offset="0.450" stop-color="#4850f3"/><stop offset="0.500" stop-color="#4849ed"/><stop offset="0.550" stop-color="#4745e9"/><stop offset="0.600" stop-color="#4742e6"/><stop offset="0.650" stop-color="#4741e4"/><stop offset="0.700" stop-color="#4740e4"/><stop offset="0.750" stop-color="#4740e3"/><stop offset="0.800" stop-color="#4741e4"/><stop offset="0.850" stop-color="#4742e6"/><stop offset="0.900" stop-color="#4745e9"/><stop offset="0.950" stop-color="#4747eb"/><stop offset="1.000" stop-color="#4849ed"/></linearGradient>
<linearGradient id="g64" gradientUnits="userSpaceOnUse" x1="1673.3" y1="0" x2="1889.4" y2="0"><stop offset="0.000" stop-color="#2c8ef1"/><stop offset="0.053" stop-color="#2c8ff1"/><stop offset="0.105" stop-color="#2b90f0"/><stop offset="0.158" stop-color="#2a93ee"/><stop offset="0.211" stop-color="#2994ed"/><stop offset="0.263" stop-color="#2a92ee"/><stop offset="0.316" stop-color="#2e84f8"/><stop offset="0.368" stop-color="#4367fd"/><stop offset="0.421" stop-color="#4852f4"/><stop offset="0.474" stop-color="#4848ec"/><stop offset="0.526" stop-color="#4742e6"/><stop offset="0.579" stop-color="#473fe2"/><stop offset="0.632" stop-color="#463de0"/><stop offset="0.684" stop-color="#463cde"/><stop offset="0.737" stop-color="#463cde"/><stop offset="0.789" stop-color="#463cde"/><stop offset="0.842" stop-color="#463ddf"/><stop offset="0.895" stop-color="#473ee2"/><stop offset="0.947" stop-color="#4741e5"/><stop offset="1.000" stop-color="#4743e7"/></linearGradient>
<linearGradient id="g65" gradientUnits="userSpaceOnUse" x1="1682.1" y1="0" x2="1877.9" y2="0"><stop offset="0.000" stop-color="#2c8ef1"/><stop offset="0.059" stop-color="#2c8ff0"/><stop offset="0.118" stop-color="#2b90ef"/><stop offset="0.176" stop-color="#2b91ef"/><stop offset="0.235" stop-color="#2c90f0"/><stop offset="0.294" stop-color="#2e85f8"/><stop offset="0.353" stop-color="#4367fd"/><stop offset="0.412" stop-color="#484ff2"/><stop offset="0.471" stop-color="#4744e8"/><stop offset="0.529" stop-color="#473ee1"/><stop offset="0.588" stop-color="#463bdd"/><stop offset="0.647" stop-color="#4539d9"/><stop offset="0.706" stop-color="#4538d7"/><stop offset="0.765" stop-color="#4538d7"/><stop offset="0.824" stop-color="#4538d7"/><stop offset="0.882" stop-color="#4539d8"/><stop offset="0.941" stop-color="#463adc"/><stop offset="1.000" stop-color="#463ddf"/></linearGradient>
<linearGradient id="g66" gradientUnits="userSpaceOnUse" x1="1690.9" y1="0" x2="1866.5" y2="0"><stop offset="0.000" stop-color="#2c8ff1"/><stop offset="0.067" stop-color="#2c8ff0"/><stop offset="0.133" stop-color="#2c90f0"/><stop offset="0.200" stop-color="#2c8ff1"/><stop offset="0.267" stop-color="#2e86f7"/><stop offset="0.333" stop-color="#4368fe"/><stop offset="0.400" stop-color="#484df0"/><stop offset="0.467" stop-color="#4740e4"/><stop offset="0.533" stop-color="#463adb"/><stop offset="0.600" stop-color="#4537d6"/><stop offset="0.667" stop-color="#4435d1"/><stop offset="0.733" stop-color="#4434cf"/><stop offset="0.800" stop-color="#4434cf"/><stop offset="0.867" stop-color="#4434cf"/><stop offset="0.933" stop-color="#4435d1"/><stop offset="1.000" stop-color="#4537d5"/></linearGradient>
<linearGradient id="g67" gradientUnits="userSpaceOnUse" x1="1699.7" y1="0" x2="1855.0" y2="0"><stop offset="0.000" stop-color="#2c8ff1"/><stop offset="0.077" stop-color="#2c8ff1"/><stop offset="0.154" stop-color="#2c8ef1"/><stop offset="0.231" stop-color="#2e87f7"/><stop offset="0.308" stop-color="#416afe"/><stop offset="0.385" stop-color="#484bef"/><stop offset="0.462" stop-color="#463de0"/><stop offset="0.538" stop-color="#4536d5"/><stop offset="0.615" stop-color="#4433cd"/><stop offset="0.692" stop-color="#4332c9"/><stop offset="0.769" stop-color="#4331c7"/><stop offset="0.846" stop-color="#4331c6"/><stop offset="0.923" stop-color="#4331c6"/><stop offset="1.000" stop-color="#4332c9"/></linearGradient>
<linearGradient id="g68" gradientUnits="userSpaceOnUse" x1="1708.5" y1="0" x2="1843.6" y2="0"><stop offset="0.000" stop-color="#2c8ff1"/><stop offset="0.083" stop-color="#2c8ef1"/><stop offset="0.167" stop-color="#2d8af4"/><stop offset="0.250" stop-color="#3677fe"/><stop offset="0.333" stop-color="#4755f6"/><stop offset="0.417" stop-color="#473ee2"/><stop offset="0.500" stop-color="#4536d3"/><stop offset="0.583" stop-color="#4332c9"/><stop offset="0.667" stop-color="#4230c3"/><stop offset="0.750" stop-color="#422ebf"/><stop offset="0.833" stop-color="#412ebd"/><stop offset="0.917" stop-color="#412dbd"/><stop offset="1.000" stop-color="#412ebd"/></linearGradient>
<linearGradient id="g69" gradientUnits="userSpaceOnUse" x1="1717.3" y1="0" x2="1832.1" y2="0"><stop offset="0.000" stop-color="#2c8ef1"/><stop offset="0.100" stop-color="#2d8bf4"/><stop offset="0.200" stop-color="#337afd"/><stop offset="0.300" stop-color="#4756f7"/><stop offset="0.400" stop-color="#463cde"/><stop offset="0.500" stop-color="#4433cc"/><stop offset="0.600" stop-color="#422fc0"/><stop offset="0.700" stop-color="#412cba"/><stop offset="0.800" stop-color="#402bb6"/><stop offset="0.900" stop-color="#402ab4"/><stop offset="1.000" stop-color="#402ab4"/></linearGradient>
<linearGradient id="g70" gradientUnits="userSpaceOnUse" x1="1726.0" y1="0" x2="1820.6" y2="0"><stop offset="0.000" stop-color="#2d8cf3"/><stop offset="0.125" stop-color="#317efb"/><stop offset="0.250" stop-color="#4759f8"/><stop offset="0.375" stop-color="#463adb"/><stop offset="0.500" stop-color="#4230c4"/><stop offset="0.625" stop-color="#402bb7"/><stop offset="0.750" stop-color="#3f29b1"/><stop offset="0.875" stop-color="#3e28ac"/><stop offset="1.000" stop-color="#3e27ab"/></linearGradient>
<linearGradient id="g71" gradientUnits="userSpaceOnUse" x1="1734.8" y1="0" x2="1809.2" y2="0"><stop offset="0.000" stop-color="#2f82f9"/><stop offset="0.143" stop-color="#4564fd"/><stop offset="0.286" stop-color="#4741e5"/><stop offset="0.429" stop-color="#4331c6"/><stop offset="0.571" stop-color="#402ab5"/><stop offset="0.714" stop-color="#3e27ab"/><stop offset="0.857" stop-color="#3e26a8"/><stop offset="1.000" stop-color="#3e26a8"/></linearGradient>
<linearGradient id="g72" gradientUnits="userSpaceOnUse" x1="1743.6" y1="0" x2="1797.7" y2="0"><stop offset="0.000" stop-color="#4367fd"/><stop offset="0.200" stop-color="#4741e5"/><stop offset="0.400" stop-color="#422ec0"/><stop offset="0.600" stop-color="#3f28ad"/><stop offset="0.800" stop-color="#3e26a8"/><stop offset="1.000" stop-color="#3e26a8"/></linearGradient>
<linearGradient id="g73" gradientUnits="userSpaceOnUse" x1="1742.0" y1="0" x2="1798.0" y2="0"><stop offset="0.000" stop-color="#416bfe"/><stop offset="0.200" stop-color="#4741e5"/><stop offset="0.400" stop-color="#412cb8"/><stop offset="0.600" stop-color="#3e26a8"/><stop offset="0.800" stop-color="#3e26a8"/><stop offset="1.000" stop-color="#3e26a8"/></linearGradient>
<linearGradient id="cb" x1="0" y1="0" x2="0" y2="1"><stop offset="0.0000" stop-color="#f9fb15"/><stop offset="0.0476" stop-color="#f5e924"/><stop offset="0.0952" stop-color="#fad62d"/><stop offset="0.1429" stop-color="#fec338"/><stop offset="0.1905" stop-color="#f0ba36"/><stop offset="0.2381" stop-color="#d1bf27"/><stop offset="0.2857" stop-color="#abc739"/><stop offset="0.3333" stop-color="#81cc59"/><stop offset="0.3810" stop-color="#57cc7a"/><stop offset="0.4286" stop-color="#37c897"/><stop offset="0.4762" stop-color="#24c1ae"/><stop offset="0.5238" stop-color="#02bac3"/><stop offset="0.5714" stop-color="#12b1d6"/><stop offset="0.6190" stop-color="#20a5e3"/><stop offset="0.6667" stop-color="#2797eb"/><stop offset="0.7143" stop-color="#2e87f7"/><stop offset="0.7619" stop-color="#3875fe"/><stop offset="0.8095" stop-color="#4563fd"/><stop offset="0.8571" stop-color="#4852f4"/><stop offset="0.9048" stop-color="#4741e5"/><stop offset="0.9524" stop-color="#4332cb"/><stop offset="1.0000" stop-color="#3e26a8"/></linearGradient>
</defs>
<g clip-path="url(#sc)"><rect x="1829.0" y="123.7" width="44.0" height="3.6" fill="url(#g0)"/><rect x="1817.3" y="126.7" width="58.6" height="3.6" fill="url(#g1)"/><rect x="1805.5" y="129.7" width="73.3" height="3.6" fill="url(#g2)"/><rect x="1793.8" y="132.7" width="87.9" height="3.6" fill="url(#g3)"/><rect x="1782.1" y="135.7" width="102.6" height="3.6" fill="url(#g4)"/><rect x="1770.4" y="138.7" width="117.2" height="3.6" fill="url(#g5)"/><rect x="1758.6" y="141.7" width="131.8" height="3.6" fill="url(#g6)"/><rect x="1746.9" y="144.7" width="146.5" height="3.6" fill="url(#g7)"/><rect x="1735.2" y="147.7" width="161.1" height="3.6" fill="url(#g8)"/><rect x="1723.5" y="150.7" width="175.8" height="3.6" fill="url(#g9)"/><rect x="1711.7" y="153.7" width="190.4" height="3.6" fill="url(#g10)"/><rect x="1700.0" y="156.7" width="205.0" height="3.6" fill="url(#g11)"/><rect x="1688.3" y="159.7" width="219.7" height="3.6" fill="url(#g12)"/><rect x="1676.6" y="162.7" width="234.3" height="3.6" fill="url(#g13)"/><rect x="1664.8" y="165.7" width="249.0" height="3.6" fill="url(#g14)"/><rect x="1653.1" y="168.7" width="263.6" height="3.6" fill="url(#g15)"/><rect x="1641.4" y="171.7" width="278.2" height="3.6" fill="url(#g16)"/><rect x="1629.7" y="174.7" width="292.9" height="3.6" fill="url(#g17)"/><rect x="1617.9" y="177.7" width="307.5" height="3.6" fill="url(#g18)"/><rect x="1606.2" y="180.7" width="322.1" height="3.6" fill="url(#g19)"/><rect x="1594.5" y="183.7" width="336.8" height="3.6" fill="url(#g20)"/><rect x="1582.8" y="186.7" width="351.4" height="3.6" fill="url(#g21)"/><rect x="1571.0" y="189.7" width="366.1" height="3.6" fill="url(#g22)"/><rect x="1559.3" y="192.7" width="380.7" height="3.6" fill="url(#g23)"/><rect x="1547.6" y="195.7" width="395.3" height="3.6" fill="url(#g24)"/><rect x="1535.9" y="198.7" width="410.0" height="3.6" fill="url(#g25)"/><rect x="1524.1" y="201.7" width="424.6" height="3.6" fill="url(#g26)"/><rect x="1512.4" y="204.7" width="439.3" height="3.6" fill="url(#g27)"/><rect x="1500.7" y="207.7" width="453.9" height="3.6" fill="url(#g28)"/><rect x="1489.0" y="210.7" width="468.5" height="3.6" fill="url(#g29)"/><rect x="1477.2" y="213.7" width="483.2" height="3.6" fill="url(#g30)"/><rect x="1465.5" y="216.7" width="497.8" height="3.6" fill="url(#g31)"/><rect x="1453.8" y="219.7" width="512.5" height="3.6" fill="url(#g32)"/><rect x="1442.1" y="222.7" width="527.1" height="3.6" fill="url(#g33)"/><rect x="1430.3" y="225.7" width="541.7" height="3.6" fill="url(#g34)"/><rect x="1418.6" y="228.7" width="556.4" height="3.6" fill="url(#g35)"/><rect x="1427.4" y="231.7" width="550.5" height="3.6" fill="url(#g36)"/><rect x="1436.2" y="234.7" width="544.6" height="3.6" fill="url(#g37)"/><rect x="1445.0" y="237.7" width="538.8" height="3.6" fill="url(#g38)"/><rect x="1453.7" y="240.7" width="532.9" height="3.6" fill="url(#g39)"/><rect x="1462.5" y="243.7" width="527.0" height="3.6" fill="url(#g40)"/><rect x="1471.3" y="246.7" width="521.2" height="3.6" fill="url(#g41)"/><rect x="1480.1" y="249.7" width="515.3" height="3.6" fill="url(#g42)"/><rect x="1488.9" y="252.7" width="509.4" height="3.6" fill="url(#g43)"/><rect x="1497.7" y="255.7" width="503.5" height="3.6" fill="url(#g44)"/><rect x="1506.4" y="258.7" width="497.7" height="3.6" fill="url(#g45)"/><rect x="1515.2" y="261.7" width="491.8" height="3.6" fill="url(#g46)"/><rect x="1524.0" y="264.7" width="485.9" height="3.6" fill="url(#g47)"/><rect x="1532.8" y="267.7" width="480.1" height="3.6" fill="url(#g48)"/><rect x="1541.6" y="270.7" width="474.2" height="3.6" fill="url(#g49)"/><rect x="1550.4" y="273.7" width="468.3" height="3.6" fill="url(#g50)"/><rect x="1559.1" y="276.7" width="462.5" height="3.6" fill="url(#g51)"/><rect x="1567.9" y="279.7" width="456.6" height="3.6" fill="url(#g52)"/><rect x="1576.7" y="282.7" width="438.7" height="3.6" fill="url(#g53)"/><rect x="1585.5" y="285.7" width="418.5" height="3.6" fill="url(#g54)"/><rect x="1594.3" y="288.7" width="398.3" height="3.6" fill="url(#g55)"/><rect x="1603.1" y="291.7" width="378.0" height="3.6" fill="url(#g56)"/><rect x="1611.8" y="294.7" width="357.8" height="3.6" fill="url(#g57)"/><rect x="1620.6" y="297.7" width="337.5" height="3.6" fill="url(#g58)"/><rect x="1629.4" y="300.7" width="317.3" height="3.6" fill="url(#g59)"/><rect x="1638.2" y="303.7" width="297.0" height="3.6" fill="url(#g60)"/><rect x="1647.0" y="306.7" width="276.8" height="3.6" fill="url(#g61)"/><rect x="1655.8" y="309.7" width="256.6" height="3.6" fill="url(#g62)"/><rect x="1664.6" y="312.7" width="236.3" height="3.6" fill="url(#g63)"/><rect x="1673.3" y="315.7" width="216.1" height="3.6" fill="url(#g64)"/><rect x="1682.1" y="318.7" width="195.8" height="3.6" fill="url(#g65)"/><rect x="1690.9" y="321.7" width="175.6" height="3.6" fill="url(#g66)"/><rect x="1699.7" y="324.7" width="155.3" height="3.6" fill="url(#g67)"/><rect x="1708.5" y="327.7" width="135.1" height="3.6" fill="url(#g68)"/><rect x="1717.3" y="330.7" width="114.9" height="3.6" fill="url(#g69)"/><rect x="1726.0" y="333.7" width="94.6" height="3.6" fill="url(#g70)"/><rect x="1734.8" y="336.7" width="74.4" height="3.6" fill="url(#g71)"/><rect x="1743.6" y="339.7" width="54.1" height="3.6" fill="url(#g72)"/><rect x="1742.0" y="342.7" width="56.0" height="3.6" fill="url(#g73)"/></g>
<line x1="1439.6" y1="233.5" x2="1768.0" y2="344.5" stroke="#fff" stroke-width="3" />
<path d="M1467.0,221.0 C1468.5,222.0 1472.8,225.2 1476.0,227.0 C1479.2,228.8 1480.3,230.2 1486.0,232.0 C1491.7,233.8 1498.6,235.1 1510.0,237.5 C1521.4,239.9 1540.9,243.0 1554.5,246.3 C1568.1,249.6 1578.9,252.8 1591.5,257.5 C1604.1,262.2 1616.6,267.8 1630.0,274.5 C1643.4,281.2 1659.2,291.6 1672.0,298.0 C1684.8,304.4 1698.5,310.2 1706.5,313.0 C1714.5,315.8 1715.6,314.6 1720.0,314.8 C1724.4,315.0 1729.4,315.5 1733.0,314.0 C1736.6,312.5 1739.2,308.9 1741.5,305.6 C1743.8,302.3 1744.0,297.9 1746.5,294.0 C1749.0,290.1 1752.5,285.8 1756.4,282.5 C1760.3,279.2 1764.8,276.7 1769.7,274.2 C1774.6,271.7 1779.4,269.4 1786.0,267.5 C1792.6,265.6 1801.1,263.9 1809.4,262.6 C1817.7,261.4 1826.1,260.7 1836.0,260.0 C1845.9,259.3 1855.2,258.9 1869.0,258.3 C1882.8,257.7 1900.5,257.3 1918.7,256.6 C1936.9,255.9 1968.1,254.7 1978.0,254.3" fill="none" stroke="#b8234b" stroke-width="2.4" stroke-linejoin="round"/>
<path d="M1467.0,221.0 C1468.5,222.0 1472.8,225.2 1476.0,227.0 C1479.2,228.8 1480.3,230.2 1486.0,232.0 C1491.7,233.8 1498.6,235.1 1510.0,237.5 C1521.4,239.9 1540.9,243.0 1554.5,246.3 C1568.1,249.6 1585.3,255.6 1591.5,257.5" fill="none" stroke="#ee1515" stroke-width="3" stroke-linecap="round"/>
<path d="M1467.0,221.0 C1468.5,222.0 1472.8,225.2 1476.0,227.0 C1479.2,228.8 1480.3,230.2 1486.0,232.0 C1491.7,233.8 1506.0,236.6 1510.0,237.5" fill="none" stroke="#f01010" stroke-width="5" stroke-linecap="round"/>
<path d="M1465.5,219.5 L1475,218.5 L1480,226 L1470,226 Z" fill="#f01010"/>
<line x1="1441.1" y1="239.1" x2="1747.4" y2="343.4" stroke="#000" stroke-width="2.8" />
<polygon points="1433.5,236.5 1444.4,235.5 1441.5,244.0" fill="#000" />
<polygon points="1755.0,346.0 1744.1,347.0 1747.0,338.5" fill="#000" />
<line x1="1410.0" y1="239.0" x2="1438.6" y2="230.8" stroke="#000" stroke-width="3" />
<line x1="1739.0" y1="352.0" x2="1768.0" y2="345.0" stroke="#000" stroke-width="3" />
<text transform="translate(1508.5,299) rotate(18.8)" font-size="25.4" class="sb" fill="#000" stroke="#000" stroke-width="0.3">Crack front</text>
<rect x="2053.5" y="104" width="19" height="447" fill="url(#cb)" stroke="#555" stroke-width="0.8"/>
<line x1="2068.5" y1="114.0" x2="2072.5" y2="114.0" stroke="#444" stroke-width="1" />
<text x="2079.0" y="123.3" font-size="26" class="sr" fill="#2a2a2a" text-anchor="start" >2.5</text>
<line x1="2068.5" y1="173.6" x2="2072.5" y2="173.6" stroke="#444" stroke-width="1" />
<text x="2079.0" y="182.9" font-size="26" class="sr" fill="#2a2a2a" text-anchor="start" >2</text>
<line x1="2068.5" y1="233.2" x2="2072.5" y2="233.2" stroke="#444" stroke-width="1" />
<text x="2079.0" y="242.5" font-size="26" class="sr" fill="#2a2a2a" text-anchor="start" >1.5</text>
<line x1="2068.5" y1="292.8" x2="2072.5" y2="292.8" stroke="#444" stroke-width="1" />
<text x="2079.0" y="302.1" font-size="26" class="sr" fill="#2a2a2a" text-anchor="start" >1</text>
<line x1="2068.5" y1="352.4" x2="2072.5" y2="352.4" stroke="#444" stroke-width="1" />
<text x="2079.0" y="361.7" font-size="26" class="sr" fill="#2a2a2a" text-anchor="start" >0.5</text>
<line x1="2068.5" y1="412.0" x2="2072.5" y2="412.0" stroke="#444" stroke-width="1" />
<text x="2079.0" y="421.3" font-size="26" class="sr" fill="#2a2a2a" text-anchor="start" >0</text>
<line x1="2068.5" y1="471.6" x2="2072.5" y2="471.6" stroke="#444" stroke-width="1" />
<text x="2079.0" y="480.9" font-size="26" class="sr" fill="#2a2a2a" text-anchor="start" >-0.5</text>
<line x1="2068.5" y1="531.2" x2="2072.5" y2="531.2" stroke="#444" stroke-width="1" />
<text x="2079.0" y="540.5" font-size="26" class="sr" fill="#2a2a2a" text-anchor="start" >-1</text>
<g transform="translate(1174.0,566.3) rotate(0) scale(1.04,1)"><text x="0" y="0" font-size="38" class="mi" fill="#000">x<tspan dy="7.6" font-size="26.599999999999998" class="mb">3</tspan><tspan dy="-4.6" dx="1" font-size="38.76" class="mr">[</tspan><tspan dy="-3">nm</tspan><tspan class="mr" dy="3">]</tspan></text></g>
<g transform="translate(1702.5,605.5) rotate(0) scale(1.04,1)"><text x="0" y="0" font-size="38" class="mi" fill="#000">x<tspan dy="7.6" font-size="26.599999999999998" class="mb">1</tspan><tspan dy="-4.6" dx="1" font-size="38.76" class="mr">[</tspan><tspan dy="-3">nm</tspan><tspan class="mr" dy="3">]</tspan></text></g>
<g transform="translate(1190.0,342.5) rotate(-90) scale(1.04,1)"><text x="0" y="0" font-size="38" class="mi" fill="#000">x<tspan dy="7.6" font-size="26.599999999999998" class="mb">2</tspan><tspan dy="-4.6" dx="1" font-size="38.76" class="mr">[</tspan><tspan dy="-3">nm</tspan><tspan class="mr" dy="3">]</tspan></text></g>
<g transform="translate(2034.5,94.5) scale(1.0,1)"><text x="0" y="0" font-size="38" class="mi" fill="#000"><tspan class="mr" dy="3" font-size="39">[</tspan><tspan dy="-3">nm</tspan><tspan class="mr" dy="3" font-size="39">]</tspan></text></g>
<text x="1163.0" y="33.0" font-size="42" class="sb" fill="#000" text-anchor="start"  stroke="#000" stroke-width="0.4">b</text>
</g>
</svg>
</body></html>
